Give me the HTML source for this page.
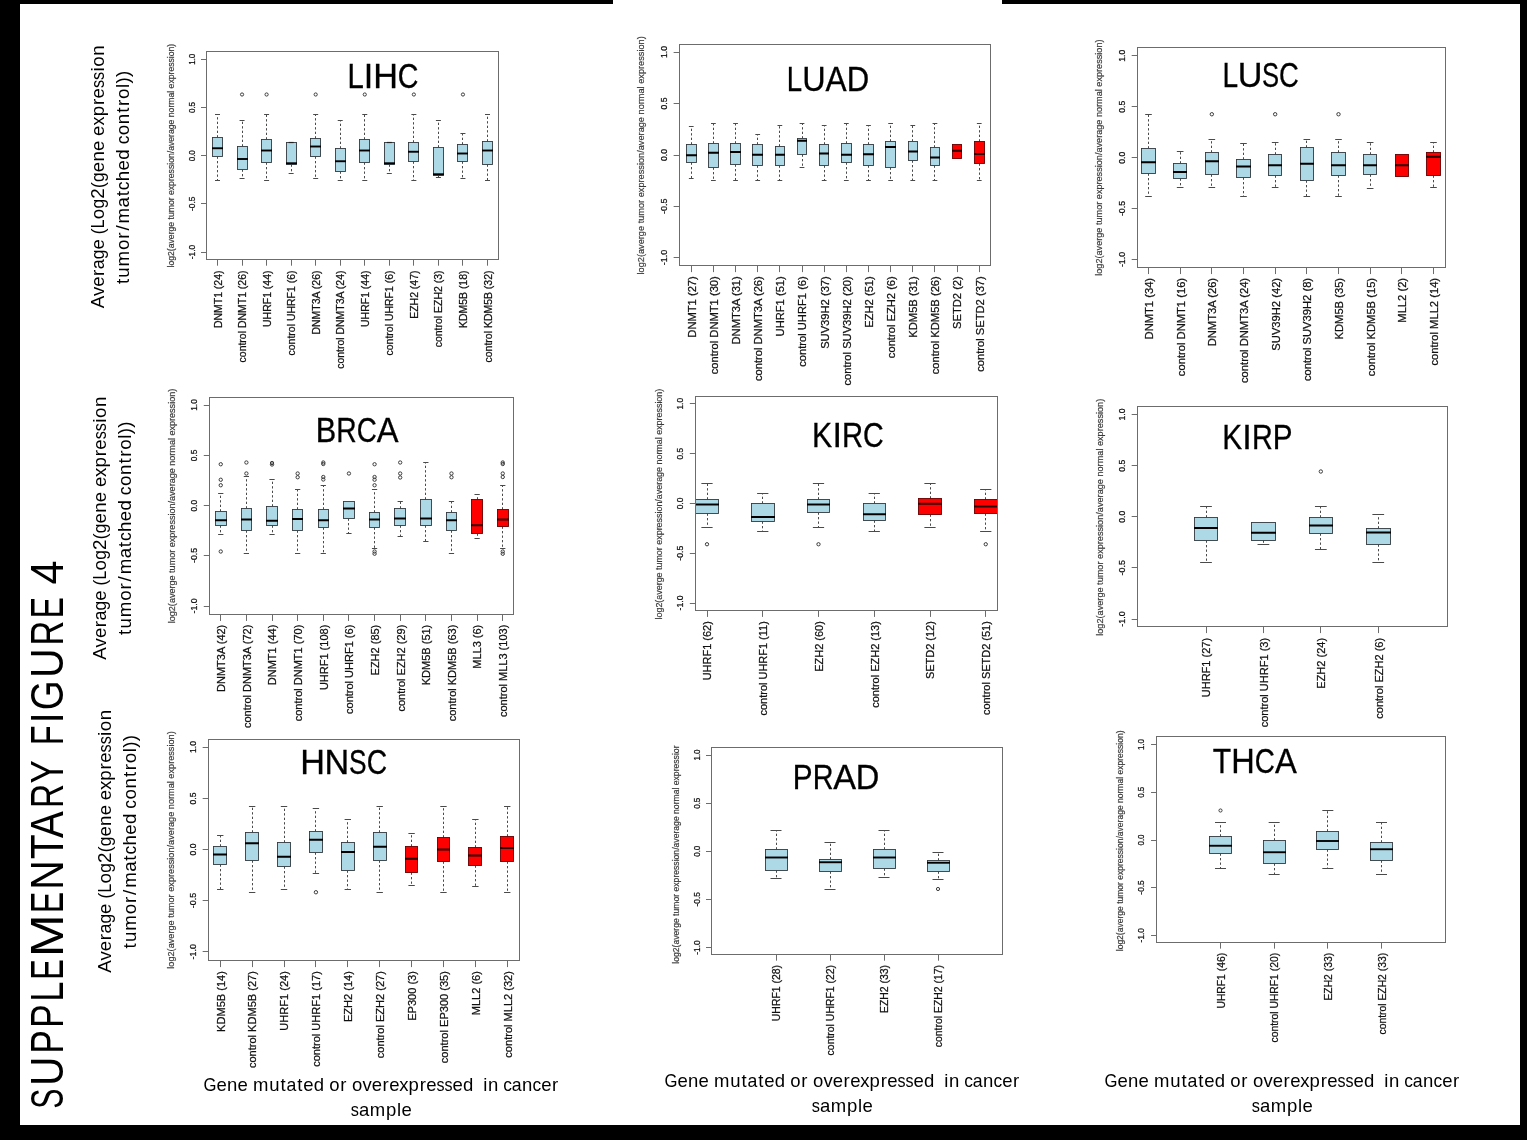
<!DOCTYPE html>
<html lang="en"><head><meta charset="utf-8"><title>Supplementary Figure 4</title>
<style>html,body{margin:0;padding:0;background:#fff;}body{width:1527px;height:1140px;overflow:hidden;font-family:"Liberation Sans", sans-serif;}svg{display:block;font-family:"Liberation Sans", sans-serif;will-change:transform;}</style>
</head><body>
<svg width="1527" height="1140" viewBox="0 0 1527 1140">
<rect x="0" y="0" width="1527" height="1140" fill="#fff"/>
<rect x="0" y="0" width="20" height="1140" fill="#000"/>
<rect x="0" y="0" width="613" height="4" fill="#000"/>
<rect x="1002" y="0" width="525" height="4" fill="#000"/>
<rect x="1520" y="0" width="7" height="1140" fill="#000"/>
<rect x="0" y="1125" width="1527" height="15" fill="#000"/>
<g transform="translate(62.6,0) rotate(-90)" font-size="45.3">
<text x="-1108.81" textLength="20.18" lengthAdjust="spacingAndGlyphs">S</text>
<text x="-1086.02" textLength="29.52" lengthAdjust="spacingAndGlyphs">U</text>
<text x="-1053.86" textLength="23.55" lengthAdjust="spacingAndGlyphs">P</text>
<text x="-1027.88" textLength="23.67" lengthAdjust="spacingAndGlyphs">P</text>
<text x="-1001.83" textLength="20.1" lengthAdjust="spacingAndGlyphs">L</text>
<text x="-979.69" textLength="20.53" lengthAdjust="spacingAndGlyphs">E</text>
<text x="-957.2" textLength="42.93" lengthAdjust="spacingAndGlyphs">M</text>
<text x="-913.07" textLength="21.15" lengthAdjust="spacingAndGlyphs">E</text>
<text x="-889.97" textLength="29.92" lengthAdjust="spacingAndGlyphs">N</text>
<text x="-859.17" textLength="24.87" lengthAdjust="spacingAndGlyphs">T</text>
<text x="-838.05" textLength="26.78" lengthAdjust="spacingAndGlyphs">A</text>
<text x="-807.91" textLength="24.13" lengthAdjust="spacingAndGlyphs">R</text>
<text x="-783.43" textLength="23.25" lengthAdjust="spacingAndGlyphs">Y</text>
<text x="-745.24" textLength="19.92" lengthAdjust="spacingAndGlyphs">F</text>
<text x="-723.35" textLength="10.81" lengthAdjust="spacingAndGlyphs">I</text>
<text x="-710.27" textLength="29.8" lengthAdjust="spacingAndGlyphs">G</text>
<text x="-677.94" textLength="29.71" lengthAdjust="spacingAndGlyphs">U</text>
<text x="-645.58" textLength="24.74" lengthAdjust="spacingAndGlyphs">R</text>
<text x="-618.51" textLength="21.52" lengthAdjust="spacingAndGlyphs">E</text>
<text x="-584.42" textLength="24.01" lengthAdjust="spacingAndGlyphs">4</text>
</g>
<g transform="translate(104,0) rotate(-90)" font-size="18.7">
<text x="-308.35 -296.09 -286.77 -275.9">Aver</text>
<text x="-269.16" textLength="9.94" lengthAdjust="spacingAndGlyphs">a</text>
<text x="-259.22" textLength="9.77" lengthAdjust="spacingAndGlyphs">g</text>
<text x="-249.49">e</text>
<text x="-234.4">(</text>
<text x="-228.14" textLength="8.73" lengthAdjust="spacingAndGlyphs">L</text>
<text x="-219.14">o</text>
<text x="-208.46" textLength="9.77" lengthAdjust="spacingAndGlyphs">g</text>
<text x="-198.63 -188.14">2(</text>
<text x="-181.88" textLength="9.77" lengthAdjust="spacingAndGlyphs">g</text>
<text x="-172.14 -161.53 -150.91">ene</text>
<text x="-135.89">e</text>
<text x="-125.52" textLength="8.99" lengthAdjust="spacingAndGlyphs">x</text>
<text x="-116.28 -105.12 -98.43">pre</text>
<text x="-88.06" textLength="8.12" lengthAdjust="spacingAndGlyphs">s</text>
<text x="-79.94" textLength="8.12" lengthAdjust="spacingAndGlyphs">s</text>
<text x="-71.52 -66.79 -55.86">ion</text>
</g>
<g transform="translate(129,0) rotate(-90)" font-size="18.7">
<text x="-284.08 -277.7 -266.45 -250.01 -238.77 -230.58 -223.4 -207.46 -196.36">tumor/mat</text>
<text x="-190.26" textLength="8.83" lengthAdjust="spacingAndGlyphs">c</text>
<text x="-181.14 -170.45 -159.77">hed</text>
<text x="-144.36" textLength="8.83" lengthAdjust="spacingAndGlyphs">c</text>
<text x="-135.21 -124.22 -112.63 -106 -98.94 -87.91 -83.38 -77.05">ontrol))</text>
</g>
<g transform="translate(106.2,0) rotate(-90)" font-size="18.7">
<text x="-659.65 -647.39 -638.06 -627.19">Aver</text>
<text x="-620.45" textLength="9.95" lengthAdjust="spacingAndGlyphs">a</text>
<text x="-610.5" textLength="9.77" lengthAdjust="spacingAndGlyphs">g</text>
<text x="-600.76">e</text>
<text x="-585.67">(</text>
<text x="-579.41" textLength="8.73" lengthAdjust="spacingAndGlyphs">L</text>
<text x="-570.4">o</text>
<text x="-559.73" textLength="9.77" lengthAdjust="spacingAndGlyphs">g</text>
<text x="-549.89 -539.39">2(</text>
<text x="-533.13" textLength="9.77" lengthAdjust="spacingAndGlyphs">g</text>
<text x="-523.39 -512.77 -502.15">ene</text>
<text x="-487.12 -476.93 -467.5 -456.34 -449.64">expre</text>
<text x="-439.28" textLength="8.12" lengthAdjust="spacingAndGlyphs">s</text>
<text x="-431.16" textLength="8.12" lengthAdjust="spacingAndGlyphs">s</text>
<text x="-422.73 -417.99 -407.06">ion</text>
</g>
<g transform="translate(131.05,0) rotate(-90)" font-size="18.7">
<text x="-634.88 -628.5 -617.25 -600.81 -589.57 -581.38 -574.2 -558.26 -547.16">tumor/mat</text>
<text x="-541.06" textLength="8.83" lengthAdjust="spacingAndGlyphs">c</text>
<text x="-531.94 -521.25 -510.57">hed</text>
<text x="-495.16" textLength="8.83" lengthAdjust="spacingAndGlyphs">c</text>
<text x="-486.01 -475.02 -463.43 -456.8 -449.74 -438.71 -434.18 -427.85">ontrol))</text>
</g>
<g transform="translate(111.3,0) rotate(-90)" font-size="18.7">
<text x="-972.75 -960.49 -951.16 -940.29">Aver</text>
<text x="-933.56" textLength="9.94" lengthAdjust="spacingAndGlyphs">a</text>
<text x="-923.61" textLength="9.77" lengthAdjust="spacingAndGlyphs">g</text>
<text x="-913.88">e</text>
<text x="-898.78">(</text>
<text x="-892.52" textLength="8.73" lengthAdjust="spacingAndGlyphs">L</text>
<text x="-883.52">o</text>
<text x="-872.84" textLength="9.77" lengthAdjust="spacingAndGlyphs">g</text>
<text x="-863.01 -852.51">2(</text>
<text x="-846.25" textLength="9.77" lengthAdjust="spacingAndGlyphs">g</text>
<text x="-836.52 -825.9 -815.28">ene</text>
<text x="-800.25 -790.07 -780.64 -769.48 -762.79">expre</text>
<text x="-752.42" textLength="8.12" lengthAdjust="spacingAndGlyphs">s</text>
<text x="-744.3" textLength="8.12" lengthAdjust="spacingAndGlyphs">s</text>
<text x="-735.88 -731.14 -720.21">ion</text>
</g>
<g transform="translate(136.2,0) rotate(-90)" font-size="18.7">
<text x="-948.38 -942 -930.75 -914.31 -903.07 -894.88 -887.7 -871.76 -860.66">tumor/mat</text>
<text x="-854.56" textLength="8.83" lengthAdjust="spacingAndGlyphs">c</text>
<text x="-845.44 -834.75 -824.07">hed</text>
<text x="-808.66" textLength="8.83" lengthAdjust="spacingAndGlyphs">c</text>
<text x="-799.51 -788.52 -776.93 -770.3 -763.24 -752.21 -747.68 -741.35">ontrol))</text>
</g>
<g transform="translate(0,1090.9)" font-size="18.5">
<text x="203.57" textLength="12.97" lengthAdjust="spacingAndGlyphs">G</text>
<text x="216.51 227.03 237.55">ene</text>
<text x="252.97 269.14 280.56">mut</text>
<text x="286.58" textLength="9.85" lengthAdjust="spacingAndGlyphs">a</text>
<text x="297.3 303.29 313.81">ted</text>
<text x="329.28 340.35">or</text>
<text x="351.95 362.53 371.77 382.54 389.17 399.26 408.6 419.65 426.29">overexpre</text>
<text x="436.55" textLength="8.04" lengthAdjust="spacingAndGlyphs">s</text>
<text x="444.59" textLength="8.04" lengthAdjust="spacingAndGlyphs">s</text>
<text x="452.61 463.12">ed</text>
<text x="483.27 487.95">in</text>
<text x="503.14" textLength="8.7" lengthAdjust="spacingAndGlyphs">c</text>
<text x="511.84" textLength="9.85" lengthAdjust="spacingAndGlyphs">a</text>
<text x="521.95">n</text>
<text x="532.49" textLength="8.7" lengthAdjust="spacingAndGlyphs">c</text>
<text x="541.16 551.93">er</text>
</g>
<g transform="translate(0,1115.5)" font-size="18.5">
<text x="350.85" textLength="8.17" lengthAdjust="spacingAndGlyphs">s</text>
<text x="358.88 369.66 386.05 397.02 401.52">ample</text>
</g>
<g transform="translate(0,1086.6)" font-size="18.5">
<text x="664.57" textLength="12.97" lengthAdjust="spacingAndGlyphs">G</text>
<text x="677.51 688.03 698.55">ene</text>
<text x="713.97 730.14 741.56">mut</text>
<text x="747.58" textLength="9.85" lengthAdjust="spacingAndGlyphs">a</text>
<text x="758.3 764.29 774.81">ted</text>
<text x="790.28 801.35">or</text>
<text x="812.95 823.53 832.77 843.54 850.17 860.26 869.6 880.65 887.29">overexpre</text>
<text x="897.55" textLength="8.04" lengthAdjust="spacingAndGlyphs">s</text>
<text x="905.59" textLength="8.04" lengthAdjust="spacingAndGlyphs">s</text>
<text x="913.61 924.12">ed</text>
<text x="944.27 948.95">in</text>
<text x="964.14" textLength="8.7" lengthAdjust="spacingAndGlyphs">c</text>
<text x="972.84" textLength="9.85" lengthAdjust="spacingAndGlyphs">a</text>
<text x="982.95">n</text>
<text x="993.49" textLength="8.7" lengthAdjust="spacingAndGlyphs">c</text>
<text x="1002.16 1012.93">er</text>
</g>
<g transform="translate(0,1111.5)" font-size="18.5">
<text x="811.85" textLength="8.17" lengthAdjust="spacingAndGlyphs">s</text>
<text x="819.88 830.66 847.05 858.02 862.52">ample</text>
</g>
<g transform="translate(0,1087.4)" font-size="18.5">
<text x="1104.57" textLength="12.97" lengthAdjust="spacingAndGlyphs">G</text>
<text x="1117.51 1128.03 1138.55">ene</text>
<text x="1153.97 1170.14 1181.56">mut</text>
<text x="1187.58" textLength="9.85" lengthAdjust="spacingAndGlyphs">a</text>
<text x="1198.3 1204.29 1214.81">ted</text>
<text x="1230.28 1241.35">or</text>
<text x="1252.95 1263.53 1272.77 1283.54 1290.17 1300.26 1309.6 1320.65 1327.29">overexpre</text>
<text x="1337.55" textLength="8.04" lengthAdjust="spacingAndGlyphs">s</text>
<text x="1345.59" textLength="8.04" lengthAdjust="spacingAndGlyphs">s</text>
<text x="1353.61 1364.12">ed</text>
<text x="1384.27 1388.95">in</text>
<text x="1404.14" textLength="8.7" lengthAdjust="spacingAndGlyphs">c</text>
<text x="1412.84" textLength="9.85" lengthAdjust="spacingAndGlyphs">a</text>
<text x="1422.95">n</text>
<text x="1433.49" textLength="8.7" lengthAdjust="spacingAndGlyphs">c</text>
<text x="1442.16 1452.93">er</text>
</g>
<g transform="translate(0,1112.3)" font-size="18.5">
<text x="1251.85" textLength="8.17" lengthAdjust="spacingAndGlyphs">s</text>
<text x="1259.88 1270.66 1287.05 1298.02 1302.52">ample</text>
</g>
<g>
<line x1="217.5" y1="137.5" x2="217.5" y2="114.25" stroke="#4a4a4a" stroke-width="1" stroke-dasharray="2.3 2.2"/>
<line x1="215" y1="114.5" x2="220" y2="114.5" stroke="#4a4a4a" stroke-width="1"/>
<line x1="217.5" y1="156.5" x2="217.5" y2="180.25" stroke="#4a4a4a" stroke-width="1" stroke-dasharray="2.3 2.2"/>
<line x1="215" y1="180.5" x2="220" y2="180.5" stroke="#4a4a4a" stroke-width="1"/>
<rect x="212.5" y="137.5" width="10" height="19" fill="#add8e6" stroke="#333b40" stroke-width="0.9"/>
<line x1="212" y1="148.25" x2="223" y2="148.25" stroke="#000" stroke-width="1.9"/>
<line x1="242.5" y1="146.5" x2="242.5" y2="120.5" stroke="#4a4a4a" stroke-width="1" stroke-dasharray="2.3 2.2"/>
<line x1="239.55" y1="120.5" x2="244.55" y2="120.5" stroke="#4a4a4a" stroke-width="1"/>
<line x1="242.5" y1="169.5" x2="242.5" y2="178.5" stroke="#4a4a4a" stroke-width="1" stroke-dasharray="2.3 2.2"/>
<line x1="239.55" y1="178.5" x2="244.55" y2="178.5" stroke="#4a4a4a" stroke-width="1"/>
<rect x="237.5" y="146.5" width="10" height="23" fill="#add8e6" stroke="#333b40" stroke-width="0.9"/>
<line x1="237" y1="159" x2="248" y2="159" stroke="#000" stroke-width="1.9"/>
<circle cx="242.05" cy="94.5" r="1.6" fill="none" stroke="#3c3c3c" stroke-width="1"/>
<line x1="266.5" y1="139.5" x2="266.5" y2="114.25" stroke="#4a4a4a" stroke-width="1" stroke-dasharray="2.3 2.2"/>
<line x1="264.09" y1="114.5" x2="269.09" y2="114.5" stroke="#4a4a4a" stroke-width="1"/>
<line x1="266.5" y1="162.5" x2="266.5" y2="180.25" stroke="#4a4a4a" stroke-width="1" stroke-dasharray="2.3 2.2"/>
<line x1="264.09" y1="180.5" x2="269.09" y2="180.5" stroke="#4a4a4a" stroke-width="1"/>
<rect x="261.5" y="139.5" width="10" height="23" fill="#add8e6" stroke="#333b40" stroke-width="0.9"/>
<line x1="261" y1="150.5" x2="272" y2="150.5" stroke="#000" stroke-width="1.9"/>
<circle cx="266.59" cy="94.5" r="1.6" fill="none" stroke="#3c3c3c" stroke-width="1"/>
<line x1="291.5" y1="164.5" x2="291.5" y2="173.75" stroke="#4a4a4a" stroke-width="1" stroke-dasharray="2.3 2.2"/>
<line x1="288.64" y1="173.5" x2="293.64" y2="173.5" stroke="#4a4a4a" stroke-width="1"/>
<rect x="286.5" y="142.5" width="10" height="22" fill="#add8e6" stroke="#333b40" stroke-width="0.9"/>
<line x1="288.64" y1="142.5" x2="293.64" y2="142.5" stroke="#222" stroke-width="1.2"/>
<line x1="286" y1="163.25" x2="297" y2="163.25" stroke="#000" stroke-width="1.9"/>
<line x1="315.5" y1="138.5" x2="315.5" y2="114.25" stroke="#4a4a4a" stroke-width="1" stroke-dasharray="2.3 2.2"/>
<line x1="313.18" y1="114.5" x2="318.18" y2="114.5" stroke="#4a4a4a" stroke-width="1"/>
<line x1="315.5" y1="156.5" x2="315.5" y2="178.5" stroke="#4a4a4a" stroke-width="1" stroke-dasharray="2.3 2.2"/>
<line x1="313.18" y1="178.5" x2="318.18" y2="178.5" stroke="#4a4a4a" stroke-width="1"/>
<rect x="310.5" y="138.5" width="10" height="18" fill="#add8e6" stroke="#333b40" stroke-width="0.9"/>
<line x1="310" y1="146.5" x2="321" y2="146.5" stroke="#000" stroke-width="1.9"/>
<circle cx="315.68" cy="94.5" r="1.6" fill="none" stroke="#3c3c3c" stroke-width="1"/>
<line x1="340.5" y1="148.5" x2="340.5" y2="120.5" stroke="#4a4a4a" stroke-width="1" stroke-dasharray="2.3 2.2"/>
<line x1="337.73" y1="120.5" x2="342.73" y2="120.5" stroke="#4a4a4a" stroke-width="1"/>
<line x1="340.5" y1="171.5" x2="340.5" y2="180.25" stroke="#4a4a4a" stroke-width="1" stroke-dasharray="2.3 2.2"/>
<line x1="337.73" y1="180.5" x2="342.73" y2="180.5" stroke="#4a4a4a" stroke-width="1"/>
<rect x="335.5" y="148.5" width="10" height="23" fill="#add8e6" stroke="#333b40" stroke-width="0.9"/>
<line x1="335" y1="161.25" x2="346" y2="161.25" stroke="#000" stroke-width="1.9"/>
<line x1="364.5" y1="139.5" x2="364.5" y2="114.25" stroke="#4a4a4a" stroke-width="1" stroke-dasharray="2.3 2.2"/>
<line x1="362.27" y1="114.5" x2="367.27" y2="114.5" stroke="#4a4a4a" stroke-width="1"/>
<line x1="364.5" y1="162.5" x2="364.5" y2="180.25" stroke="#4a4a4a" stroke-width="1" stroke-dasharray="2.3 2.2"/>
<line x1="362.27" y1="180.5" x2="367.27" y2="180.5" stroke="#4a4a4a" stroke-width="1"/>
<rect x="359.5" y="139.5" width="10" height="23" fill="#add8e6" stroke="#333b40" stroke-width="0.9"/>
<line x1="359" y1="150.5" x2="370" y2="150.5" stroke="#000" stroke-width="1.9"/>
<circle cx="364.77" cy="94.5" r="1.6" fill="none" stroke="#3c3c3c" stroke-width="1"/>
<line x1="389.5" y1="164.5" x2="389.5" y2="173.75" stroke="#4a4a4a" stroke-width="1" stroke-dasharray="2.3 2.2"/>
<line x1="386.82" y1="173.5" x2="391.82" y2="173.5" stroke="#4a4a4a" stroke-width="1"/>
<rect x="384.5" y="142.5" width="10" height="22" fill="#add8e6" stroke="#333b40" stroke-width="0.9"/>
<line x1="386.82" y1="142.5" x2="391.82" y2="142.5" stroke="#222" stroke-width="1.2"/>
<line x1="384" y1="163.25" x2="395" y2="163.25" stroke="#000" stroke-width="1.9"/>
<line x1="413.5" y1="142.5" x2="413.5" y2="114.25" stroke="#4a4a4a" stroke-width="1" stroke-dasharray="2.3 2.2"/>
<line x1="411.36" y1="114.5" x2="416.36" y2="114.5" stroke="#4a4a4a" stroke-width="1"/>
<line x1="413.5" y1="161.5" x2="413.5" y2="180.25" stroke="#4a4a4a" stroke-width="1" stroke-dasharray="2.3 2.2"/>
<line x1="411.36" y1="180.5" x2="416.36" y2="180.5" stroke="#4a4a4a" stroke-width="1"/>
<rect x="408.5" y="142.5" width="10" height="19" fill="#add8e6" stroke="#333b40" stroke-width="0.9"/>
<line x1="408" y1="151.75" x2="419" y2="151.75" stroke="#000" stroke-width="1.9"/>
<circle cx="413.86" cy="94.5" r="1.6" fill="none" stroke="#3c3c3c" stroke-width="1"/>
<line x1="438.5" y1="147.5" x2="438.5" y2="120.5" stroke="#4a4a4a" stroke-width="1" stroke-dasharray="2.3 2.2"/>
<line x1="435.91" y1="120.5" x2="440.91" y2="120.5" stroke="#4a4a4a" stroke-width="1"/>
<line x1="438.5" y1="175.5" x2="438.5" y2="177.5" stroke="#4a4a4a" stroke-width="1" stroke-dasharray="2.3 2.2"/>
<line x1="435.91" y1="177.5" x2="440.91" y2="177.5" stroke="#4a4a4a" stroke-width="1"/>
<rect x="433.5" y="147.5" width="10" height="28" fill="#add8e6" stroke="#333b40" stroke-width="0.9"/>
<line x1="433" y1="174.25" x2="444" y2="174.25" stroke="#000" stroke-width="1.9"/>
<line x1="462.5" y1="144.5" x2="462.5" y2="133" stroke="#4a4a4a" stroke-width="1" stroke-dasharray="2.3 2.2"/>
<line x1="460.45" y1="133.5" x2="465.45" y2="133.5" stroke="#4a4a4a" stroke-width="1"/>
<line x1="462.5" y1="161.5" x2="462.5" y2="178.5" stroke="#4a4a4a" stroke-width="1" stroke-dasharray="2.3 2.2"/>
<line x1="460.45" y1="178.5" x2="465.45" y2="178.5" stroke="#4a4a4a" stroke-width="1"/>
<rect x="457.5" y="144.5" width="10" height="17" fill="#add8e6" stroke="#333b40" stroke-width="0.9"/>
<line x1="457" y1="153.5" x2="468" y2="153.5" stroke="#000" stroke-width="1.9"/>
<circle cx="462.95" cy="94.5" r="1.6" fill="none" stroke="#3c3c3c" stroke-width="1"/>
<line x1="487.5" y1="141.5" x2="487.5" y2="114.25" stroke="#4a4a4a" stroke-width="1" stroke-dasharray="2.3 2.2"/>
<line x1="485" y1="114.5" x2="490" y2="114.5" stroke="#4a4a4a" stroke-width="1"/>
<line x1="487.5" y1="164.5" x2="487.5" y2="180.25" stroke="#4a4a4a" stroke-width="1" stroke-dasharray="2.3 2.2"/>
<line x1="485" y1="180.5" x2="490" y2="180.5" stroke="#4a4a4a" stroke-width="1"/>
<rect x="482.5" y="141.5" width="10" height="23" fill="#add8e6" stroke="#333b40" stroke-width="0.9"/>
<line x1="482" y1="150.5" x2="493" y2="150.5" stroke="#000" stroke-width="1.9"/>
<rect x="206.5" y="51.5" width="292" height="208" fill="none" stroke="#6c6c6c" stroke-width="1"/>
<line x1="201" y1="59.5" x2="206.5" y2="59.5" stroke="#6c6c6c" stroke-width="1"/>
<text transform="translate(194.95,59.25) rotate(-90)" font-size="8.6" text-anchor="middle" fill="#111" textLength="11.2" lengthAdjust="spacingAndGlyphs" stroke="#111" stroke-width="0.25">1.0</text>
<line x1="201" y1="107.5" x2="206.5" y2="107.5" stroke="#6c6c6c" stroke-width="1"/>
<text transform="translate(194.95,107.5) rotate(-90)" font-size="8.6" text-anchor="middle" fill="#111" textLength="11.2" lengthAdjust="spacingAndGlyphs" stroke="#111" stroke-width="0.25">0.5</text>
<line x1="201" y1="155.5" x2="206.5" y2="155.5" stroke="#6c6c6c" stroke-width="1"/>
<text transform="translate(194.95,155.75) rotate(-90)" font-size="8.6" text-anchor="middle" fill="#111" textLength="11.2" lengthAdjust="spacingAndGlyphs" stroke="#111" stroke-width="0.25">0.0</text>
<line x1="201" y1="203.5" x2="206.5" y2="203.5" stroke="#6c6c6c" stroke-width="1"/>
<text transform="translate(194.95,203.75) rotate(-90)" font-size="8.6" text-anchor="middle" fill="#111" textLength="14.4" lengthAdjust="spacingAndGlyphs" stroke="#111" stroke-width="0.25">-0.5</text>
<line x1="201" y1="252.5" x2="206.5" y2="252.5" stroke="#6c6c6c" stroke-width="1"/>
<text transform="translate(194.95,252) rotate(-90)" font-size="8.6" text-anchor="middle" fill="#111" textLength="14.4" lengthAdjust="spacingAndGlyphs" stroke="#111" stroke-width="0.25">-1.0</text>
<line x1="217.5" y1="259.5" x2="217.5" y2="265.7" stroke="#6c6c6c" stroke-width="1"/>
<text transform="translate(221.58,270.5) rotate(-90)" font-size="10.47" text-anchor="end" fill="#111" stroke="#111" stroke-width="0.25">DNMT1 (24)</text>
<line x1="242.5" y1="259.5" x2="242.5" y2="265.7" stroke="#6c6c6c" stroke-width="1"/>
<text transform="translate(246.13,270.5) rotate(-90)" font-size="10.47" text-anchor="end" fill="#111" stroke="#111" stroke-width="0.25">control DNMT1 (26)</text>
<line x1="266.5" y1="259.5" x2="266.5" y2="265.7" stroke="#6c6c6c" stroke-width="1"/>
<text transform="translate(270.67,270.5) rotate(-90)" font-size="10.47" text-anchor="end" fill="#111" stroke="#111" stroke-width="0.25">UHRF1 (44)</text>
<line x1="291.5" y1="259.5" x2="291.5" y2="265.7" stroke="#6c6c6c" stroke-width="1"/>
<text transform="translate(295.22,270.5) rotate(-90)" font-size="10.47" text-anchor="end" fill="#111" stroke="#111" stroke-width="0.25">control UHRF1 (6)</text>
<line x1="315.5" y1="259.5" x2="315.5" y2="265.7" stroke="#6c6c6c" stroke-width="1"/>
<text transform="translate(319.77,270.5) rotate(-90)" font-size="10.47" text-anchor="end" fill="#111" stroke="#111" stroke-width="0.25">DNMT3A (26)</text>
<line x1="340.5" y1="259.5" x2="340.5" y2="265.7" stroke="#6c6c6c" stroke-width="1"/>
<text transform="translate(344.31,270.5) rotate(-90)" font-size="10.47" text-anchor="end" fill="#111" stroke="#111" stroke-width="0.25">control DNMT3A (24)</text>
<line x1="364.5" y1="259.5" x2="364.5" y2="265.7" stroke="#6c6c6c" stroke-width="1"/>
<text transform="translate(368.86,270.5) rotate(-90)" font-size="10.47" text-anchor="end" fill="#111" stroke="#111" stroke-width="0.25">UHRF1 (44)</text>
<line x1="389.5" y1="259.5" x2="389.5" y2="265.7" stroke="#6c6c6c" stroke-width="1"/>
<text transform="translate(393.4,270.5) rotate(-90)" font-size="10.47" text-anchor="end" fill="#111" stroke="#111" stroke-width="0.25">control UHRF1 (6)</text>
<line x1="413.5" y1="259.5" x2="413.5" y2="265.7" stroke="#6c6c6c" stroke-width="1"/>
<text transform="translate(417.95,270.5) rotate(-90)" font-size="10.47" text-anchor="end" fill="#111" stroke="#111" stroke-width="0.25">EZH2 (47)</text>
<line x1="438.5" y1="259.5" x2="438.5" y2="265.7" stroke="#6c6c6c" stroke-width="1"/>
<text transform="translate(442.49,270.5) rotate(-90)" font-size="10.47" text-anchor="end" fill="#111" stroke="#111" stroke-width="0.25">control EZH2 (3)</text>
<line x1="462.5" y1="259.5" x2="462.5" y2="265.7" stroke="#6c6c6c" stroke-width="1"/>
<text transform="translate(467.04,270.5) rotate(-90)" font-size="10.47" text-anchor="end" fill="#111" stroke="#111" stroke-width="0.25">KDM5B (18)</text>
<line x1="487.5" y1="259.5" x2="487.5" y2="265.7" stroke="#6c6c6c" stroke-width="1"/>
<text transform="translate(491.58,270.5) rotate(-90)" font-size="10.47" text-anchor="end" fill="#111" stroke="#111" stroke-width="0.25">control KDM5B (32)</text>
<text transform="translate(174.3,267.5) rotate(-90)" font-size="9.2" text-anchor="start" fill="#3a3a3a" textLength="223.75" lengthAdjust="spacingAndGlyphs" stroke="#3a3a3a" stroke-width="0.2">log2(averge tumor expression/average normal expression)</text>
<g transform="translate(0,87.6)" font-size="34.2" stroke="#000" stroke-width="0.3">
<text x="347.38" textLength="16.31" lengthAdjust="spacingAndGlyphs">L</text>
<text x="363.83 373.21">IH</text>
<text x="397.65" textLength="20.69" lengthAdjust="spacingAndGlyphs">C</text>
</g>
</g>
<g>
<line x1="691.5" y1="144.5" x2="691.5" y2="126.25" stroke="#4a4a4a" stroke-width="1" stroke-dasharray="2.3 2.2"/>
<line x1="688.88" y1="126.5" x2="693.62" y2="126.5" stroke="#4a4a4a" stroke-width="1"/>
<line x1="691.5" y1="162.5" x2="691.5" y2="178.75" stroke="#4a4a4a" stroke-width="1" stroke-dasharray="2.3 2.2"/>
<line x1="688.88" y1="178.5" x2="693.62" y2="178.5" stroke="#4a4a4a" stroke-width="1"/>
<rect x="686.5" y="144.5" width="10" height="18" fill="#add8e6" stroke="#333b40" stroke-width="0.9"/>
<line x1="686" y1="155.25" x2="697" y2="155.25" stroke="#000" stroke-width="2.03"/>
<line x1="713.5" y1="143.5" x2="713.5" y2="123.5" stroke="#4a4a4a" stroke-width="1" stroke-dasharray="2.3 2.2"/>
<line x1="711.03" y1="123.5" x2="715.78" y2="123.5" stroke="#4a4a4a" stroke-width="1"/>
<line x1="713.5" y1="167.5" x2="713.5" y2="180.25" stroke="#4a4a4a" stroke-width="1" stroke-dasharray="2.3 2.2"/>
<line x1="711.03" y1="180.5" x2="715.78" y2="180.5" stroke="#4a4a4a" stroke-width="1"/>
<rect x="708.5" y="143.5" width="10" height="24" fill="#add8e6" stroke="#333b40" stroke-width="0.9"/>
<line x1="708" y1="152.75" x2="719" y2="152.75" stroke="#000" stroke-width="2.03"/>
<line x1="735.5" y1="143.5" x2="735.5" y2="123.5" stroke="#4a4a4a" stroke-width="1" stroke-dasharray="2.3 2.2"/>
<line x1="733.18" y1="123.5" x2="737.93" y2="123.5" stroke="#4a4a4a" stroke-width="1"/>
<line x1="735.5" y1="164.5" x2="735.5" y2="180.25" stroke="#4a4a4a" stroke-width="1" stroke-dasharray="2.3 2.2"/>
<line x1="733.18" y1="180.5" x2="737.93" y2="180.5" stroke="#4a4a4a" stroke-width="1"/>
<rect x="730.5" y="143.5" width="10" height="21" fill="#add8e6" stroke="#333b40" stroke-width="0.9"/>
<line x1="730" y1="152" x2="741" y2="152" stroke="#000" stroke-width="2.03"/>
<line x1="757.5" y1="144.5" x2="757.5" y2="134.5" stroke="#4a4a4a" stroke-width="1" stroke-dasharray="2.3 2.2"/>
<line x1="755.34" y1="134.5" x2="760.09" y2="134.5" stroke="#4a4a4a" stroke-width="1"/>
<line x1="757.5" y1="165.5" x2="757.5" y2="180" stroke="#4a4a4a" stroke-width="1" stroke-dasharray="2.3 2.2"/>
<line x1="755.34" y1="180.5" x2="760.09" y2="180.5" stroke="#4a4a4a" stroke-width="1"/>
<rect x="752.5" y="144.5" width="10" height="21" fill="#add8e6" stroke="#333b40" stroke-width="0.9"/>
<line x1="752" y1="154.75" x2="763" y2="154.75" stroke="#000" stroke-width="2.03"/>
<line x1="779.5" y1="146.5" x2="779.5" y2="125" stroke="#4a4a4a" stroke-width="1" stroke-dasharray="2.3 2.2"/>
<line x1="777.49" y1="125.5" x2="782.24" y2="125.5" stroke="#4a4a4a" stroke-width="1"/>
<line x1="779.5" y1="165.5" x2="779.5" y2="180.25" stroke="#4a4a4a" stroke-width="1" stroke-dasharray="2.3 2.2"/>
<line x1="777.49" y1="180.5" x2="782.24" y2="180.5" stroke="#4a4a4a" stroke-width="1"/>
<rect x="775.5" y="146.5" width="9" height="19" fill="#add8e6" stroke="#333b40" stroke-width="0.9"/>
<line x1="775" y1="154.75" x2="785" y2="154.75" stroke="#000" stroke-width="2.03"/>
<line x1="802.5" y1="138.5" x2="802.5" y2="123.5" stroke="#4a4a4a" stroke-width="1" stroke-dasharray="2.3 2.2"/>
<line x1="799.64" y1="123.5" x2="804.39" y2="123.5" stroke="#4a4a4a" stroke-width="1"/>
<line x1="802.5" y1="154.5" x2="802.5" y2="167.75" stroke="#4a4a4a" stroke-width="1" stroke-dasharray="2.3 2.2"/>
<line x1="799.64" y1="167.5" x2="804.39" y2="167.5" stroke="#4a4a4a" stroke-width="1"/>
<rect x="797.5" y="138.5" width="9" height="16" fill="#add8e6" stroke="#333b40" stroke-width="0.9"/>
<line x1="797" y1="140.75" x2="807" y2="140.75" stroke="#000" stroke-width="2.03"/>
<line x1="824.5" y1="144.5" x2="824.5" y2="125" stroke="#4a4a4a" stroke-width="1" stroke-dasharray="2.3 2.2"/>
<line x1="821.8" y1="125.5" x2="826.55" y2="125.5" stroke="#4a4a4a" stroke-width="1"/>
<line x1="824.5" y1="165.5" x2="824.5" y2="180.25" stroke="#4a4a4a" stroke-width="1" stroke-dasharray="2.3 2.2"/>
<line x1="821.8" y1="180.5" x2="826.55" y2="180.5" stroke="#4a4a4a" stroke-width="1"/>
<rect x="819.5" y="144.5" width="9" height="21" fill="#add8e6" stroke="#333b40" stroke-width="0.9"/>
<line x1="819" y1="153.5" x2="829" y2="153.5" stroke="#000" stroke-width="2.03"/>
<line x1="846.5" y1="143.5" x2="846.5" y2="123.5" stroke="#4a4a4a" stroke-width="1" stroke-dasharray="2.3 2.2"/>
<line x1="843.95" y1="123.5" x2="848.7" y2="123.5" stroke="#4a4a4a" stroke-width="1"/>
<line x1="846.5" y1="162.5" x2="846.5" y2="180" stroke="#4a4a4a" stroke-width="1" stroke-dasharray="2.3 2.2"/>
<line x1="843.95" y1="180.5" x2="848.7" y2="180.5" stroke="#4a4a4a" stroke-width="1"/>
<rect x="841.5" y="143.5" width="10" height="19" fill="#add8e6" stroke="#333b40" stroke-width="0.9"/>
<line x1="841" y1="154.75" x2="852" y2="154.75" stroke="#000" stroke-width="2.03"/>
<line x1="868.5" y1="144.5" x2="868.5" y2="125" stroke="#4a4a4a" stroke-width="1" stroke-dasharray="2.3 2.2"/>
<line x1="866.11" y1="125.5" x2="870.86" y2="125.5" stroke="#4a4a4a" stroke-width="1"/>
<line x1="868.5" y1="165.5" x2="868.5" y2="180.25" stroke="#4a4a4a" stroke-width="1" stroke-dasharray="2.3 2.2"/>
<line x1="866.11" y1="180.5" x2="870.86" y2="180.5" stroke="#4a4a4a" stroke-width="1"/>
<rect x="863.5" y="144.5" width="10" height="21" fill="#add8e6" stroke="#333b40" stroke-width="0.9"/>
<line x1="863" y1="154.25" x2="874" y2="154.25" stroke="#000" stroke-width="2.03"/>
<line x1="890.5" y1="141.5" x2="890.5" y2="123.5" stroke="#4a4a4a" stroke-width="1" stroke-dasharray="2.3 2.2"/>
<line x1="888.26" y1="123.5" x2="893.01" y2="123.5" stroke="#4a4a4a" stroke-width="1"/>
<line x1="890.5" y1="167.5" x2="890.5" y2="180" stroke="#4a4a4a" stroke-width="1" stroke-dasharray="2.3 2.2"/>
<line x1="888.26" y1="180.5" x2="893.01" y2="180.5" stroke="#4a4a4a" stroke-width="1"/>
<rect x="885.5" y="141.5" width="10" height="26" fill="#add8e6" stroke="#333b40" stroke-width="0.9"/>
<line x1="885" y1="147" x2="896" y2="147" stroke="#000" stroke-width="2.03"/>
<line x1="912.5" y1="141.5" x2="912.5" y2="125" stroke="#4a4a4a" stroke-width="1" stroke-dasharray="2.3 2.2"/>
<line x1="910.41" y1="125.5" x2="915.16" y2="125.5" stroke="#4a4a4a" stroke-width="1"/>
<line x1="912.5" y1="160.5" x2="912.5" y2="180.25" stroke="#4a4a4a" stroke-width="1" stroke-dasharray="2.3 2.2"/>
<line x1="910.41" y1="180.5" x2="915.16" y2="180.5" stroke="#4a4a4a" stroke-width="1"/>
<rect x="908.5" y="141.5" width="9" height="19" fill="#add8e6" stroke="#333b40" stroke-width="0.9"/>
<line x1="908" y1="151.5" x2="918" y2="151.5" stroke="#000" stroke-width="2.03"/>
<line x1="934.5" y1="147.5" x2="934.5" y2="123.5" stroke="#4a4a4a" stroke-width="1" stroke-dasharray="2.3 2.2"/>
<line x1="932.57" y1="123.5" x2="937.32" y2="123.5" stroke="#4a4a4a" stroke-width="1"/>
<line x1="934.5" y1="165.5" x2="934.5" y2="180" stroke="#4a4a4a" stroke-width="1" stroke-dasharray="2.3 2.2"/>
<line x1="932.57" y1="180.5" x2="937.32" y2="180.5" stroke="#4a4a4a" stroke-width="1"/>
<rect x="930.5" y="147.5" width="9" height="18" fill="#add8e6" stroke="#333b40" stroke-width="0.9"/>
<line x1="930" y1="157.5" x2="940" y2="157.5" stroke="#000" stroke-width="2.03"/>
<rect x="952.5" y="144.5" width="9" height="14" fill="#ff0000" stroke="#6a0000" stroke-width="0.9"/>
<line x1="952" y1="150.75" x2="962" y2="150.75" stroke="#2a0000" stroke-width="2.03"/>
<line x1="979.5" y1="141.5" x2="979.5" y2="123.5" stroke="#4a4a4a" stroke-width="1" stroke-dasharray="2.3 2.2"/>
<line x1="976.88" y1="123.5" x2="981.62" y2="123.5" stroke="#4a4a4a" stroke-width="1"/>
<line x1="979.5" y1="163.5" x2="979.5" y2="180.25" stroke="#4a4a4a" stroke-width="1" stroke-dasharray="2.3 2.2"/>
<line x1="976.88" y1="180.5" x2="981.62" y2="180.5" stroke="#4a4a4a" stroke-width="1"/>
<rect x="974.5" y="141.5" width="10" height="22" fill="#ff0000" stroke="#6a0000" stroke-width="0.9"/>
<line x1="974" y1="154" x2="985" y2="154" stroke="#2a0000" stroke-width="2.03"/>
<rect x="679.5" y="44.5" width="311" height="221" fill="none" stroke="#6c6c6c" stroke-width="1"/>
<line x1="673.64" y1="52.5" x2="679.5" y2="52.5" stroke="#6c6c6c" stroke-width="1"/>
<text transform="translate(667.1,52) rotate(-90)" font-size="9.17" text-anchor="middle" fill="#111" textLength="11.94" lengthAdjust="spacingAndGlyphs" stroke="#111" stroke-width="0.25">1.0</text>
<line x1="673.64" y1="103.5" x2="679.5" y2="103.5" stroke="#6c6c6c" stroke-width="1"/>
<text transform="translate(667.1,103.5) rotate(-90)" font-size="9.17" text-anchor="middle" fill="#111" textLength="11.94" lengthAdjust="spacingAndGlyphs" stroke="#111" stroke-width="0.25">0.5</text>
<line x1="673.64" y1="155.5" x2="679.5" y2="155.5" stroke="#6c6c6c" stroke-width="1"/>
<text transform="translate(667.1,155) rotate(-90)" font-size="9.17" text-anchor="middle" fill="#111" textLength="11.94" lengthAdjust="spacingAndGlyphs" stroke="#111" stroke-width="0.25">0.0</text>
<line x1="673.64" y1="206.5" x2="679.5" y2="206.5" stroke="#6c6c6c" stroke-width="1"/>
<text transform="translate(667.1,206.25) rotate(-90)" font-size="9.17" text-anchor="middle" fill="#111" textLength="15.35" lengthAdjust="spacingAndGlyphs" stroke="#111" stroke-width="0.25">-0.5</text>
<line x1="673.64" y1="257.5" x2="679.5" y2="257.5" stroke="#6c6c6c" stroke-width="1"/>
<text transform="translate(667.1,257.5) rotate(-90)" font-size="9.17" text-anchor="middle" fill="#111" textLength="15.35" lengthAdjust="spacingAndGlyphs" stroke="#111" stroke-width="0.25">-1.0</text>
<line x1="691.5" y1="265.5" x2="691.5" y2="272.11" stroke="#6c6c6c" stroke-width="1"/>
<text transform="translate(695.61,276.2) rotate(-90)" font-size="11.18" text-anchor="end" fill="#111" stroke="#111" stroke-width="0.25">DNMT1 (27)</text>
<line x1="713.5" y1="265.5" x2="713.5" y2="272.11" stroke="#6c6c6c" stroke-width="1"/>
<text transform="translate(717.76,276.2) rotate(-90)" font-size="11.18" text-anchor="end" fill="#111" stroke="#111" stroke-width="0.25">control DNMT1 (30)</text>
<line x1="735.5" y1="265.5" x2="735.5" y2="272.11" stroke="#6c6c6c" stroke-width="1"/>
<text transform="translate(739.92,276.2) rotate(-90)" font-size="11.18" text-anchor="end" fill="#111" stroke="#111" stroke-width="0.25">DNMT3A (31)</text>
<line x1="757.5" y1="265.5" x2="757.5" y2="272.11" stroke="#6c6c6c" stroke-width="1"/>
<text transform="translate(762.07,276.2) rotate(-90)" font-size="11.18" text-anchor="end" fill="#111" stroke="#111" stroke-width="0.25">control DNMT3A (26)</text>
<line x1="779.5" y1="265.5" x2="779.5" y2="272.11" stroke="#6c6c6c" stroke-width="1"/>
<text transform="translate(784.23,276.2) rotate(-90)" font-size="11.18" text-anchor="end" fill="#111" stroke="#111" stroke-width="0.25">UHRF1 (51)</text>
<line x1="802.5" y1="265.5" x2="802.5" y2="272.11" stroke="#6c6c6c" stroke-width="1"/>
<text transform="translate(806.38,276.2) rotate(-90)" font-size="11.18" text-anchor="end" fill="#111" stroke="#111" stroke-width="0.25">control UHRF1 (6)</text>
<line x1="824.5" y1="265.5" x2="824.5" y2="272.11" stroke="#6c6c6c" stroke-width="1"/>
<text transform="translate(828.53,276.2) rotate(-90)" font-size="11.18" text-anchor="end" fill="#111" stroke="#111" stroke-width="0.25">SUV39H2 (37)</text>
<line x1="846.5" y1="265.5" x2="846.5" y2="272.11" stroke="#6c6c6c" stroke-width="1"/>
<text transform="translate(850.69,276.2) rotate(-90)" font-size="11.18" text-anchor="end" fill="#111" stroke="#111" stroke-width="0.25">control SUV39H2 (20)</text>
<line x1="868.5" y1="265.5" x2="868.5" y2="272.11" stroke="#6c6c6c" stroke-width="1"/>
<text transform="translate(872.84,276.2) rotate(-90)" font-size="11.18" text-anchor="end" fill="#111" stroke="#111" stroke-width="0.25">EZH2 (51)</text>
<line x1="890.5" y1="265.5" x2="890.5" y2="272.11" stroke="#6c6c6c" stroke-width="1"/>
<text transform="translate(894.99,276.2) rotate(-90)" font-size="11.18" text-anchor="end" fill="#111" stroke="#111" stroke-width="0.25">control EZH2 (6)</text>
<line x1="912.5" y1="265.5" x2="912.5" y2="272.11" stroke="#6c6c6c" stroke-width="1"/>
<text transform="translate(917.15,276.2) rotate(-90)" font-size="11.18" text-anchor="end" fill="#111" stroke="#111" stroke-width="0.25">KDM5B (31)</text>
<line x1="934.5" y1="265.5" x2="934.5" y2="272.11" stroke="#6c6c6c" stroke-width="1"/>
<text transform="translate(939.3,276.2) rotate(-90)" font-size="11.18" text-anchor="end" fill="#111" stroke="#111" stroke-width="0.25">control KDM5B (26)</text>
<line x1="957.5" y1="265.5" x2="957.5" y2="272.11" stroke="#6c6c6c" stroke-width="1"/>
<text transform="translate(961.46,276.2) rotate(-90)" font-size="11.18" text-anchor="end" fill="#111" stroke="#111" stroke-width="0.25">SETD2 (2)</text>
<line x1="979.5" y1="265.5" x2="979.5" y2="272.11" stroke="#6c6c6c" stroke-width="1"/>
<text transform="translate(983.61,276.2) rotate(-90)" font-size="11.18" text-anchor="end" fill="#111" stroke="#111" stroke-width="0.25">control SETD2 (37)</text>
<text transform="translate(644.3,274.5) rotate(-90)" font-size="9.81" text-anchor="start" fill="#3a3a3a" textLength="238.25" lengthAdjust="spacingAndGlyphs" stroke="#3a3a3a" stroke-width="0.2">log2(averge tumor expression/average normal expression)</text>
<g transform="translate(0,91.1)" font-size="34.2" stroke="#000" stroke-width="0.3">
<text x="786.77" textLength="15.36" lengthAdjust="spacingAndGlyphs">L</text>
<text x="802.13" textLength="23.43" lengthAdjust="spacingAndGlyphs">U</text>
<text x="825.56" textLength="21.13" lengthAdjust="spacingAndGlyphs">A</text>
<text x="846.7" textLength="22.47" lengthAdjust="spacingAndGlyphs">D</text>
</g>
</g>
<g>
<line x1="1148.5" y1="148.5" x2="1148.5" y2="114.25" stroke="#4a4a4a" stroke-width="1" stroke-dasharray="2.3 2.2"/>
<line x1="1145.19" y1="114.5" x2="1151.81" y2="114.5" stroke="#4a4a4a" stroke-width="1"/>
<line x1="1148.5" y1="173.5" x2="1148.5" y2="196.25" stroke="#4a4a4a" stroke-width="1" stroke-dasharray="2.3 2.2"/>
<line x1="1145.19" y1="196.5" x2="1151.81" y2="196.5" stroke="#4a4a4a" stroke-width="1"/>
<rect x="1141.5" y="148.5" width="14" height="25" fill="#add8e6" stroke="#333b40" stroke-width="0.9"/>
<line x1="1141" y1="162.25" x2="1156" y2="162.25" stroke="#000" stroke-width="2.01"/>
<line x1="1180.5" y1="163.5" x2="1180.5" y2="151" stroke="#4a4a4a" stroke-width="1" stroke-dasharray="2.3 2.2"/>
<line x1="1176.85" y1="151.5" x2="1183.48" y2="151.5" stroke="#4a4a4a" stroke-width="1"/>
<line x1="1180.5" y1="178.5" x2="1180.5" y2="187.5" stroke="#4a4a4a" stroke-width="1" stroke-dasharray="2.3 2.2"/>
<line x1="1176.85" y1="187.5" x2="1183.48" y2="187.5" stroke="#4a4a4a" stroke-width="1"/>
<rect x="1173.5" y="163.5" width="13" height="15" fill="#add8e6" stroke="#333b40" stroke-width="0.9"/>
<line x1="1173" y1="172" x2="1187" y2="172" stroke="#000" stroke-width="2.01"/>
<line x1="1211.5" y1="152.5" x2="1211.5" y2="139.5" stroke="#4a4a4a" stroke-width="1" stroke-dasharray="2.3 2.2"/>
<line x1="1208.52" y1="139.5" x2="1215.15" y2="139.5" stroke="#4a4a4a" stroke-width="1"/>
<line x1="1211.5" y1="174.5" x2="1211.5" y2="187.5" stroke="#4a4a4a" stroke-width="1" stroke-dasharray="2.3 2.2"/>
<line x1="1208.52" y1="187.5" x2="1215.15" y2="187.5" stroke="#4a4a4a" stroke-width="1"/>
<rect x="1205.5" y="152.5" width="13" height="22" fill="#add8e6" stroke="#333b40" stroke-width="0.9"/>
<line x1="1205" y1="161.25" x2="1219" y2="161.25" stroke="#000" stroke-width="2.01"/>
<circle cx="1211.83" cy="114.25" r="1.69" fill="none" stroke="#3c3c3c" stroke-width="1"/>
<line x1="1243.5" y1="159.5" x2="1243.5" y2="143" stroke="#4a4a4a" stroke-width="1" stroke-dasharray="2.3 2.2"/>
<line x1="1240.19" y1="143.5" x2="1246.81" y2="143.5" stroke="#4a4a4a" stroke-width="1"/>
<line x1="1243.5" y1="177.5" x2="1243.5" y2="196.25" stroke="#4a4a4a" stroke-width="1" stroke-dasharray="2.3 2.2"/>
<line x1="1240.19" y1="196.5" x2="1246.81" y2="196.5" stroke="#4a4a4a" stroke-width="1"/>
<rect x="1236.5" y="159.5" width="14" height="18" fill="#add8e6" stroke="#333b40" stroke-width="0.9"/>
<line x1="1236" y1="166.5" x2="1251" y2="166.5" stroke="#000" stroke-width="2.01"/>
<line x1="1275.5" y1="154.5" x2="1275.5" y2="142.25" stroke="#4a4a4a" stroke-width="1" stroke-dasharray="2.3 2.2"/>
<line x1="1271.85" y1="142.5" x2="1278.48" y2="142.5" stroke="#4a4a4a" stroke-width="1"/>
<line x1="1275.5" y1="175.5" x2="1275.5" y2="187.5" stroke="#4a4a4a" stroke-width="1" stroke-dasharray="2.3 2.2"/>
<line x1="1271.85" y1="187.5" x2="1278.48" y2="187.5" stroke="#4a4a4a" stroke-width="1"/>
<rect x="1268.5" y="154.5" width="13" height="21" fill="#add8e6" stroke="#333b40" stroke-width="0.9"/>
<line x1="1268" y1="165.25" x2="1282" y2="165.25" stroke="#000" stroke-width="2.01"/>
<circle cx="1275.17" cy="114.25" r="1.69" fill="none" stroke="#3c3c3c" stroke-width="1"/>
<line x1="1306.5" y1="147.5" x2="1306.5" y2="139.5" stroke="#4a4a4a" stroke-width="1" stroke-dasharray="2.3 2.2"/>
<line x1="1303.52" y1="139.5" x2="1310.15" y2="139.5" stroke="#4a4a4a" stroke-width="1"/>
<line x1="1306.5" y1="180.5" x2="1306.5" y2="196.25" stroke="#4a4a4a" stroke-width="1" stroke-dasharray="2.3 2.2"/>
<line x1="1303.52" y1="196.5" x2="1310.15" y2="196.5" stroke="#4a4a4a" stroke-width="1"/>
<rect x="1300.5" y="147.5" width="13" height="33" fill="#add8e6" stroke="#333b40" stroke-width="0.9"/>
<line x1="1300" y1="163.75" x2="1314" y2="163.75" stroke="#000" stroke-width="2.01"/>
<line x1="1338.5" y1="152.5" x2="1338.5" y2="139.5" stroke="#4a4a4a" stroke-width="1" stroke-dasharray="2.3 2.2"/>
<line x1="1335.19" y1="139.5" x2="1341.81" y2="139.5" stroke="#4a4a4a" stroke-width="1"/>
<line x1="1338.5" y1="175.5" x2="1338.5" y2="196.25" stroke="#4a4a4a" stroke-width="1" stroke-dasharray="2.3 2.2"/>
<line x1="1335.19" y1="196.5" x2="1341.81" y2="196.5" stroke="#4a4a4a" stroke-width="1"/>
<rect x="1331.5" y="152.5" width="14" height="23" fill="#add8e6" stroke="#333b40" stroke-width="0.9"/>
<line x1="1331" y1="165.25" x2="1346" y2="165.25" stroke="#000" stroke-width="2.01"/>
<circle cx="1338.5" cy="114.25" r="1.69" fill="none" stroke="#3c3c3c" stroke-width="1"/>
<line x1="1370.5" y1="154.5" x2="1370.5" y2="142.25" stroke="#4a4a4a" stroke-width="1" stroke-dasharray="2.3 2.2"/>
<line x1="1366.85" y1="142.5" x2="1373.48" y2="142.5" stroke="#4a4a4a" stroke-width="1"/>
<line x1="1370.5" y1="174.5" x2="1370.5" y2="188.75" stroke="#4a4a4a" stroke-width="1" stroke-dasharray="2.3 2.2"/>
<line x1="1366.85" y1="188.5" x2="1373.48" y2="188.5" stroke="#4a4a4a" stroke-width="1"/>
<rect x="1363.5" y="154.5" width="13" height="20" fill="#add8e6" stroke="#333b40" stroke-width="0.9"/>
<line x1="1363" y1="165.25" x2="1377" y2="165.25" stroke="#000" stroke-width="2.01"/>
<rect x="1395.5" y="154.5" width="13" height="22" fill="#ff0000" stroke="#6a0000" stroke-width="0.9"/>
<line x1="1395" y1="165.25" x2="1409" y2="165.25" stroke="#2a0000" stroke-width="2.01"/>
<line x1="1433.5" y1="152.5" x2="1433.5" y2="142.25" stroke="#4a4a4a" stroke-width="1" stroke-dasharray="2.3 2.2"/>
<line x1="1430.19" y1="142.5" x2="1436.81" y2="142.5" stroke="#4a4a4a" stroke-width="1"/>
<line x1="1433.5" y1="175.5" x2="1433.5" y2="187.5" stroke="#4a4a4a" stroke-width="1" stroke-dasharray="2.3 2.2"/>
<line x1="1430.19" y1="187.5" x2="1436.81" y2="187.5" stroke="#4a4a4a" stroke-width="1"/>
<rect x="1426.5" y="152.5" width="14" height="23" fill="#ff0000" stroke="#6a0000" stroke-width="0.9"/>
<line x1="1426" y1="156.75" x2="1441" y2="156.75" stroke="#2a0000" stroke-width="2.01"/>
<rect x="1137.5" y="47.5" width="308" height="220" fill="none" stroke="#6c6c6c" stroke-width="1"/>
<line x1="1131.69" y1="55.5" x2="1137.5" y2="55.5" stroke="#6c6c6c" stroke-width="1"/>
<text transform="translate(1124.7,55.75) rotate(-90)" font-size="9.09" text-anchor="middle" fill="#111" textLength="11.84" lengthAdjust="spacingAndGlyphs" stroke="#111" stroke-width="0.25">1.0</text>
<line x1="1131.69" y1="106.5" x2="1137.5" y2="106.5" stroke="#6c6c6c" stroke-width="1"/>
<text transform="translate(1124.7,106.75) rotate(-90)" font-size="9.09" text-anchor="middle" fill="#111" textLength="11.84" lengthAdjust="spacingAndGlyphs" stroke="#111" stroke-width="0.25">0.5</text>
<line x1="1131.69" y1="157.5" x2="1137.5" y2="157.5" stroke="#6c6c6c" stroke-width="1"/>
<text transform="translate(1124.7,157.75) rotate(-90)" font-size="9.09" text-anchor="middle" fill="#111" textLength="11.84" lengthAdjust="spacingAndGlyphs" stroke="#111" stroke-width="0.25">0.0</text>
<line x1="1131.69" y1="208.5" x2="1137.5" y2="208.5" stroke="#6c6c6c" stroke-width="1"/>
<text transform="translate(1124.7,208.5) rotate(-90)" font-size="9.09" text-anchor="middle" fill="#111" textLength="15.22" lengthAdjust="spacingAndGlyphs" stroke="#111" stroke-width="0.25">-0.5</text>
<line x1="1131.69" y1="259.5" x2="1137.5" y2="259.5" stroke="#6c6c6c" stroke-width="1"/>
<text transform="translate(1124.7,259.5) rotate(-90)" font-size="9.09" text-anchor="middle" fill="#111" textLength="15.22" lengthAdjust="spacingAndGlyphs" stroke="#111" stroke-width="0.25">-1.0</text>
<line x1="1148.5" y1="267.5" x2="1148.5" y2="274.05" stroke="#6c6c6c" stroke-width="1"/>
<text transform="translate(1152.86,277.9) rotate(-90)" font-size="11.19" text-anchor="end" fill="#111" stroke="#111" stroke-width="0.25">DNMT1 (34)</text>
<line x1="1180.5" y1="267.5" x2="1180.5" y2="274.05" stroke="#6c6c6c" stroke-width="1"/>
<text transform="translate(1184.53,277.9) rotate(-90)" font-size="11.19" text-anchor="end" fill="#111" stroke="#111" stroke-width="0.25">control DNMT1 (16)</text>
<line x1="1211.5" y1="267.5" x2="1211.5" y2="274.05" stroke="#6c6c6c" stroke-width="1"/>
<text transform="translate(1216.2,277.9) rotate(-90)" font-size="11.19" text-anchor="end" fill="#111" stroke="#111" stroke-width="0.25">DNMT3A (26)</text>
<line x1="1243.5" y1="267.5" x2="1243.5" y2="274.05" stroke="#6c6c6c" stroke-width="1"/>
<text transform="translate(1247.86,277.9) rotate(-90)" font-size="11.19" text-anchor="end" fill="#111" stroke="#111" stroke-width="0.25">control DNMT3A (24)</text>
<line x1="1275.5" y1="267.5" x2="1275.5" y2="274.05" stroke="#6c6c6c" stroke-width="1"/>
<text transform="translate(1279.53,277.9) rotate(-90)" font-size="11.19" text-anchor="end" fill="#111" stroke="#111" stroke-width="0.25">SUV39H2 (42)</text>
<line x1="1306.5" y1="267.5" x2="1306.5" y2="274.05" stroke="#6c6c6c" stroke-width="1"/>
<text transform="translate(1311.2,277.9) rotate(-90)" font-size="11.19" text-anchor="end" fill="#111" stroke="#111" stroke-width="0.25">control SUV39H2 (8)</text>
<line x1="1338.5" y1="267.5" x2="1338.5" y2="274.05" stroke="#6c6c6c" stroke-width="1"/>
<text transform="translate(1342.86,277.9) rotate(-90)" font-size="11.19" text-anchor="end" fill="#111" stroke="#111" stroke-width="0.25">KDM5B (35)</text>
<line x1="1370.5" y1="267.5" x2="1370.5" y2="274.05" stroke="#6c6c6c" stroke-width="1"/>
<text transform="translate(1374.53,277.9) rotate(-90)" font-size="11.19" text-anchor="end" fill="#111" stroke="#111" stroke-width="0.25">control KDM5B (15)</text>
<line x1="1401.5" y1="267.5" x2="1401.5" y2="274.05" stroke="#6c6c6c" stroke-width="1"/>
<text transform="translate(1406.2,277.9) rotate(-90)" font-size="11.19" text-anchor="end" fill="#111" stroke="#111" stroke-width="0.25">MLL2 (2)</text>
<line x1="1433.5" y1="267.5" x2="1433.5" y2="274.05" stroke="#6c6c6c" stroke-width="1"/>
<text transform="translate(1437.86,277.9) rotate(-90)" font-size="11.19" text-anchor="end" fill="#111" stroke="#111" stroke-width="0.25">control MLL2 (14)</text>
<text transform="translate(1102.4,275.75) rotate(-90)" font-size="9.72" text-anchor="start" fill="#3a3a3a" textLength="236.25" lengthAdjust="spacingAndGlyphs" stroke="#3a3a3a" stroke-width="0.2">log2(averge tumor expression/average normal expression)</text>
<g transform="translate(0,87.35)" font-size="34.2" stroke="#000" stroke-width="0.3">
<text x="1222.48" textLength="15.61" lengthAdjust="spacingAndGlyphs">L</text>
<text x="1237.66">U</text>
<text x="1261.92" textLength="17.06" lengthAdjust="spacingAndGlyphs">S</text>
<text x="1278.99" textLength="19.8" lengthAdjust="spacingAndGlyphs">C</text>
</g>
</g>
<g>
<line x1="220.5" y1="511.5" x2="220.5" y2="493" stroke="#4a4a4a" stroke-width="1" stroke-dasharray="2.3 2.2"/>
<line x1="218.12" y1="493.5" x2="223.38" y2="493.5" stroke="#4a4a4a" stroke-width="1"/>
<line x1="220.5" y1="525.5" x2="220.5" y2="534.25" stroke="#4a4a4a" stroke-width="1" stroke-dasharray="2.3 2.2"/>
<line x1="218.12" y1="534.5" x2="223.38" y2="534.5" stroke="#4a4a4a" stroke-width="1"/>
<rect x="215.5" y="511.5" width="11" height="14" fill="#add8e6" stroke="#333b40" stroke-width="0.9"/>
<line x1="215" y1="520.25" x2="227" y2="520.25" stroke="#000" stroke-width="1.98"/>
<circle cx="220.75" cy="464.25" r="1.67" fill="none" stroke="#3c3c3c" stroke-width="1"/>
<circle cx="220.75" cy="479.75" r="1.67" fill="none" stroke="#3c3c3c" stroke-width="1"/>
<circle cx="220.75" cy="485.25" r="1.67" fill="none" stroke="#3c3c3c" stroke-width="1"/>
<circle cx="220.75" cy="551.5" r="1.67" fill="none" stroke="#3c3c3c" stroke-width="1"/>
<line x1="246.5" y1="508.5" x2="246.5" y2="476.5" stroke="#4a4a4a" stroke-width="1" stroke-dasharray="2.3 2.2"/>
<line x1="243.76" y1="476.5" x2="249.01" y2="476.5" stroke="#4a4a4a" stroke-width="1"/>
<line x1="246.5" y1="530.5" x2="246.5" y2="553.75" stroke="#4a4a4a" stroke-width="1" stroke-dasharray="2.3 2.2"/>
<line x1="243.76" y1="553.5" x2="249.01" y2="553.5" stroke="#4a4a4a" stroke-width="1"/>
<rect x="241.5" y="508.5" width="10" height="22" fill="#add8e6" stroke="#333b40" stroke-width="0.9"/>
<line x1="241" y1="519.5" x2="252" y2="519.5" stroke="#000" stroke-width="1.98"/>
<circle cx="246.39" cy="462.5" r="1.67" fill="none" stroke="#3c3c3c" stroke-width="1"/>
<circle cx="246.39" cy="473.5" r="1.67" fill="none" stroke="#3c3c3c" stroke-width="1"/>
<line x1="272.5" y1="506.5" x2="272.5" y2="479.5" stroke="#4a4a4a" stroke-width="1" stroke-dasharray="2.3 2.2"/>
<line x1="269.4" y1="479.5" x2="274.65" y2="479.5" stroke="#4a4a4a" stroke-width="1"/>
<line x1="272.5" y1="525.5" x2="272.5" y2="534.25" stroke="#4a4a4a" stroke-width="1" stroke-dasharray="2.3 2.2"/>
<line x1="269.4" y1="534.5" x2="274.65" y2="534.5" stroke="#4a4a4a" stroke-width="1"/>
<rect x="266.5" y="506.5" width="11" height="19" fill="#add8e6" stroke="#333b40" stroke-width="0.9"/>
<line x1="266" y1="520.75" x2="278" y2="520.75" stroke="#000" stroke-width="1.98"/>
<circle cx="272.02" cy="463" r="1.67" fill="none" stroke="#3c3c3c" stroke-width="1"/>
<circle cx="272.02" cy="464.5" r="1.67" fill="none" stroke="#3c3c3c" stroke-width="1"/>
<line x1="297.5" y1="509.5" x2="297.5" y2="489.75" stroke="#4a4a4a" stroke-width="1" stroke-dasharray="2.3 2.2"/>
<line x1="295.03" y1="489.5" x2="300.28" y2="489.5" stroke="#4a4a4a" stroke-width="1"/>
<line x1="297.5" y1="530.5" x2="297.5" y2="553.75" stroke="#4a4a4a" stroke-width="1" stroke-dasharray="2.3 2.2"/>
<line x1="295.03" y1="553.5" x2="300.28" y2="553.5" stroke="#4a4a4a" stroke-width="1"/>
<rect x="292.5" y="509.5" width="10" height="21" fill="#add8e6" stroke="#333b40" stroke-width="0.9"/>
<line x1="292" y1="519" x2="303" y2="519" stroke="#000" stroke-width="1.98"/>
<circle cx="297.66" cy="473.5" r="1.67" fill="none" stroke="#3c3c3c" stroke-width="1"/>
<circle cx="297.66" cy="477.25" r="1.67" fill="none" stroke="#3c3c3c" stroke-width="1"/>
<line x1="323.5" y1="509.5" x2="323.5" y2="485.25" stroke="#4a4a4a" stroke-width="1" stroke-dasharray="2.3 2.2"/>
<line x1="320.67" y1="485.5" x2="325.92" y2="485.5" stroke="#4a4a4a" stroke-width="1"/>
<line x1="323.5" y1="527.5" x2="323.5" y2="553.75" stroke="#4a4a4a" stroke-width="1" stroke-dasharray="2.3 2.2"/>
<line x1="320.67" y1="553.5" x2="325.92" y2="553.5" stroke="#4a4a4a" stroke-width="1"/>
<rect x="318.5" y="509.5" width="10" height="18" fill="#add8e6" stroke="#333b40" stroke-width="0.9"/>
<line x1="318" y1="520.25" x2="329" y2="520.25" stroke="#000" stroke-width="1.98"/>
<circle cx="323.3" cy="462.5" r="1.67" fill="none" stroke="#3c3c3c" stroke-width="1"/>
<circle cx="323.3" cy="464" r="1.67" fill="none" stroke="#3c3c3c" stroke-width="1"/>
<circle cx="323.3" cy="477" r="1.67" fill="none" stroke="#3c3c3c" stroke-width="1"/>
<circle cx="323.3" cy="479.5" r="1.67" fill="none" stroke="#3c3c3c" stroke-width="1"/>
<line x1="348.5" y1="518.5" x2="348.5" y2="533" stroke="#4a4a4a" stroke-width="1" stroke-dasharray="2.3 2.2"/>
<line x1="346.31" y1="533.5" x2="351.56" y2="533.5" stroke="#4a4a4a" stroke-width="1"/>
<rect x="343.5" y="501.5" width="11" height="17" fill="#add8e6" stroke="#333b40" stroke-width="0.9"/>
<line x1="343" y1="508.5" x2="355" y2="508.5" stroke="#000" stroke-width="1.98"/>
<circle cx="348.93" cy="473.5" r="1.67" fill="none" stroke="#3c3c3c" stroke-width="1"/>
<line x1="374.5" y1="512.5" x2="374.5" y2="489.75" stroke="#4a4a4a" stroke-width="1" stroke-dasharray="2.3 2.2"/>
<line x1="371.94" y1="489.5" x2="377.19" y2="489.5" stroke="#4a4a4a" stroke-width="1"/>
<line x1="374.5" y1="527.5" x2="374.5" y2="548" stroke="#4a4a4a" stroke-width="1" stroke-dasharray="2.3 2.2"/>
<line x1="371.94" y1="548.5" x2="377.19" y2="548.5" stroke="#4a4a4a" stroke-width="1"/>
<rect x="369.5" y="512.5" width="10" height="15" fill="#add8e6" stroke="#333b40" stroke-width="0.9"/>
<line x1="369" y1="519.5" x2="380" y2="519.5" stroke="#000" stroke-width="1.98"/>
<circle cx="374.57" cy="464.25" r="1.67" fill="none" stroke="#3c3c3c" stroke-width="1"/>
<circle cx="374.57" cy="477" r="1.67" fill="none" stroke="#3c3c3c" stroke-width="1"/>
<circle cx="374.57" cy="479.75" r="1.67" fill="none" stroke="#3c3c3c" stroke-width="1"/>
<circle cx="374.57" cy="485.25" r="1.67" fill="none" stroke="#3c3c3c" stroke-width="1"/>
<circle cx="374.57" cy="551.5" r="1.67" fill="none" stroke="#3c3c3c" stroke-width="1"/>
<circle cx="374.57" cy="553.75" r="1.67" fill="none" stroke="#3c3c3c" stroke-width="1"/>
<line x1="400.5" y1="508.5" x2="400.5" y2="501.25" stroke="#4a4a4a" stroke-width="1" stroke-dasharray="2.3 2.2"/>
<line x1="397.58" y1="501.5" x2="402.83" y2="501.5" stroke="#4a4a4a" stroke-width="1"/>
<line x1="400.5" y1="525.5" x2="400.5" y2="536.75" stroke="#4a4a4a" stroke-width="1" stroke-dasharray="2.3 2.2"/>
<line x1="397.58" y1="536.5" x2="402.83" y2="536.5" stroke="#4a4a4a" stroke-width="1"/>
<rect x="394.5" y="508.5" width="11" height="17" fill="#add8e6" stroke="#333b40" stroke-width="0.9"/>
<line x1="394" y1="518.5" x2="406" y2="518.5" stroke="#000" stroke-width="1.98"/>
<circle cx="400.2" cy="462.5" r="1.67" fill="none" stroke="#3c3c3c" stroke-width="1"/>
<circle cx="400.2" cy="473.5" r="1.67" fill="none" stroke="#3c3c3c" stroke-width="1"/>
<circle cx="400.2" cy="477.5" r="1.67" fill="none" stroke="#3c3c3c" stroke-width="1"/>
<line x1="425.5" y1="499.5" x2="425.5" y2="462.5" stroke="#4a4a4a" stroke-width="1" stroke-dasharray="2.3 2.2"/>
<line x1="423.22" y1="462.5" x2="428.47" y2="462.5" stroke="#4a4a4a" stroke-width="1"/>
<line x1="425.5" y1="525.5" x2="425.5" y2="541.25" stroke="#4a4a4a" stroke-width="1" stroke-dasharray="2.3 2.2"/>
<line x1="423.22" y1="541.5" x2="428.47" y2="541.5" stroke="#4a4a4a" stroke-width="1"/>
<rect x="420.5" y="499.5" width="11" height="26" fill="#add8e6" stroke="#333b40" stroke-width="0.9"/>
<line x1="420" y1="518.5" x2="432" y2="518.5" stroke="#000" stroke-width="1.98"/>
<line x1="451.5" y1="512.5" x2="451.5" y2="501.25" stroke="#4a4a4a" stroke-width="1" stroke-dasharray="2.3 2.2"/>
<line x1="448.85" y1="501.5" x2="454.1" y2="501.5" stroke="#4a4a4a" stroke-width="1"/>
<line x1="451.5" y1="530.5" x2="451.5" y2="553.75" stroke="#4a4a4a" stroke-width="1" stroke-dasharray="2.3 2.2"/>
<line x1="448.85" y1="553.5" x2="454.1" y2="553.5" stroke="#4a4a4a" stroke-width="1"/>
<rect x="446.5" y="512.5" width="10" height="18" fill="#add8e6" stroke="#333b40" stroke-width="0.9"/>
<line x1="446" y1="520.25" x2="457" y2="520.25" stroke="#000" stroke-width="1.98"/>
<circle cx="451.48" cy="473.5" r="1.67" fill="none" stroke="#3c3c3c" stroke-width="1"/>
<circle cx="451.48" cy="477.25" r="1.67" fill="none" stroke="#3c3c3c" stroke-width="1"/>
<line x1="477.5" y1="499.5" x2="477.5" y2="494.5" stroke="#4a4a4a" stroke-width="1" stroke-dasharray="2.3 2.2"/>
<line x1="474.49" y1="494.5" x2="479.74" y2="494.5" stroke="#4a4a4a" stroke-width="1"/>
<line x1="477.5" y1="533.5" x2="477.5" y2="538" stroke="#4a4a4a" stroke-width="1" stroke-dasharray="2.3 2.2"/>
<line x1="474.49" y1="538.5" x2="479.74" y2="538.5" stroke="#4a4a4a" stroke-width="1"/>
<rect x="471.5" y="499.5" width="11" height="34" fill="#ff0000" stroke="#6a0000" stroke-width="0.9"/>
<line x1="471" y1="525.25" x2="483" y2="525.25" stroke="#2a0000" stroke-width="1.98"/>
<line x1="502.5" y1="509.5" x2="502.5" y2="485.25" stroke="#4a4a4a" stroke-width="1" stroke-dasharray="2.3 2.2"/>
<line x1="500.12" y1="485.5" x2="505.38" y2="485.5" stroke="#4a4a4a" stroke-width="1"/>
<line x1="502.5" y1="526.5" x2="502.5" y2="548" stroke="#4a4a4a" stroke-width="1" stroke-dasharray="2.3 2.2"/>
<line x1="500.12" y1="548.5" x2="505.38" y2="548.5" stroke="#4a4a4a" stroke-width="1"/>
<rect x="497.5" y="509.5" width="11" height="17" fill="#ff0000" stroke="#6a0000" stroke-width="0.9"/>
<line x1="497" y1="519.5" x2="509" y2="519.5" stroke="#2a0000" stroke-width="1.98"/>
<circle cx="502.75" cy="462.5" r="1.67" fill="none" stroke="#3c3c3c" stroke-width="1"/>
<circle cx="502.75" cy="464" r="1.67" fill="none" stroke="#3c3c3c" stroke-width="1"/>
<circle cx="502.75" cy="473.5" r="1.67" fill="none" stroke="#3c3c3c" stroke-width="1"/>
<circle cx="502.75" cy="477" r="1.67" fill="none" stroke="#3c3c3c" stroke-width="1"/>
<circle cx="502.75" cy="551.5" r="1.67" fill="none" stroke="#3c3c3c" stroke-width="1"/>
<circle cx="502.75" cy="553.75" r="1.67" fill="none" stroke="#3c3c3c" stroke-width="1"/>
<rect x="209.5" y="397.5" width="304" height="217" fill="none" stroke="#6c6c6c" stroke-width="1"/>
<line x1="203.77" y1="405.5" x2="209.5" y2="405.5" stroke="#6c6c6c" stroke-width="1"/>
<text transform="translate(197.3,405) rotate(-90)" font-size="8.97" text-anchor="middle" fill="#111" textLength="11.68" lengthAdjust="spacingAndGlyphs" stroke="#111" stroke-width="0.25">1.0</text>
<line x1="203.77" y1="455.5" x2="209.5" y2="455.5" stroke="#6c6c6c" stroke-width="1"/>
<text transform="translate(197.3,455.5) rotate(-90)" font-size="8.97" text-anchor="middle" fill="#111" textLength="11.68" lengthAdjust="spacingAndGlyphs" stroke="#111" stroke-width="0.25">0.5</text>
<line x1="203.77" y1="505.5" x2="209.5" y2="505.5" stroke="#6c6c6c" stroke-width="1"/>
<text transform="translate(197.3,505.75) rotate(-90)" font-size="8.97" text-anchor="middle" fill="#111" textLength="11.68" lengthAdjust="spacingAndGlyphs" stroke="#111" stroke-width="0.25">0.0</text>
<line x1="203.77" y1="555.5" x2="209.5" y2="555.5" stroke="#6c6c6c" stroke-width="1"/>
<text transform="translate(197.3,555.5) rotate(-90)" font-size="8.97" text-anchor="middle" fill="#111" textLength="15.01" lengthAdjust="spacingAndGlyphs" stroke="#111" stroke-width="0.25">-0.5</text>
<line x1="203.77" y1="606.5" x2="209.5" y2="606.5" stroke="#6c6c6c" stroke-width="1"/>
<text transform="translate(197.3,606) rotate(-90)" font-size="8.97" text-anchor="middle" fill="#111" textLength="15.01" lengthAdjust="spacingAndGlyphs" stroke="#111" stroke-width="0.25">-1.0</text>
<line x1="220.5" y1="614.5" x2="220.5" y2="620.96" stroke="#6c6c6c" stroke-width="1"/>
<text transform="translate(225.04,624.7) rotate(-90)" font-size="11.01" text-anchor="end" fill="#111" stroke="#111" stroke-width="0.25">DNMT3A (42)</text>
<line x1="246.5" y1="614.5" x2="246.5" y2="620.96" stroke="#6c6c6c" stroke-width="1"/>
<text transform="translate(250.68,624.7) rotate(-90)" font-size="11.01" text-anchor="end" fill="#111" stroke="#111" stroke-width="0.25">control DNMT3A (72)</text>
<line x1="272.5" y1="614.5" x2="272.5" y2="620.96" stroke="#6c6c6c" stroke-width="1"/>
<text transform="translate(276.32,624.7) rotate(-90)" font-size="11.01" text-anchor="end" fill="#111" stroke="#111" stroke-width="0.25">DNMT1 (44)</text>
<line x1="297.5" y1="614.5" x2="297.5" y2="620.96" stroke="#6c6c6c" stroke-width="1"/>
<text transform="translate(301.95,624.7) rotate(-90)" font-size="11.01" text-anchor="end" fill="#111" stroke="#111" stroke-width="0.25">control DNMT1 (70)</text>
<line x1="323.5" y1="614.5" x2="323.5" y2="620.96" stroke="#6c6c6c" stroke-width="1"/>
<text transform="translate(327.59,624.7) rotate(-90)" font-size="11.01" text-anchor="end" fill="#111" stroke="#111" stroke-width="0.25">UHRF1 (108)</text>
<line x1="348.5" y1="614.5" x2="348.5" y2="620.96" stroke="#6c6c6c" stroke-width="1"/>
<text transform="translate(353.23,624.7) rotate(-90)" font-size="11.01" text-anchor="end" fill="#111" stroke="#111" stroke-width="0.25">control UHRF1 (6)</text>
<line x1="374.5" y1="614.5" x2="374.5" y2="620.96" stroke="#6c6c6c" stroke-width="1"/>
<text transform="translate(378.86,624.7) rotate(-90)" font-size="11.01" text-anchor="end" fill="#111" stroke="#111" stroke-width="0.25">EZH2 (85)</text>
<line x1="400.5" y1="614.5" x2="400.5" y2="620.96" stroke="#6c6c6c" stroke-width="1"/>
<text transform="translate(404.5,624.7) rotate(-90)" font-size="11.01" text-anchor="end" fill="#111" stroke="#111" stroke-width="0.25">control EZH2 (29)</text>
<line x1="425.5" y1="614.5" x2="425.5" y2="620.96" stroke="#6c6c6c" stroke-width="1"/>
<text transform="translate(430.13,624.7) rotate(-90)" font-size="11.01" text-anchor="end" fill="#111" stroke="#111" stroke-width="0.25">KDM5B (51)</text>
<line x1="451.5" y1="614.5" x2="451.5" y2="620.96" stroke="#6c6c6c" stroke-width="1"/>
<text transform="translate(455.77,624.7) rotate(-90)" font-size="11.01" text-anchor="end" fill="#111" stroke="#111" stroke-width="0.25">control KDM5B (63)</text>
<line x1="477.5" y1="614.5" x2="477.5" y2="620.96" stroke="#6c6c6c" stroke-width="1"/>
<text transform="translate(481.41,624.7) rotate(-90)" font-size="11.01" text-anchor="end" fill="#111" stroke="#111" stroke-width="0.25">MLL3 (6)</text>
<line x1="502.5" y1="614.5" x2="502.5" y2="620.96" stroke="#6c6c6c" stroke-width="1"/>
<text transform="translate(507.04,624.7) rotate(-90)" font-size="11.01" text-anchor="end" fill="#111" stroke="#111" stroke-width="0.25">control MLL3 (103)</text>
<text transform="translate(174.9,623.25) rotate(-90)" font-size="9.59" text-anchor="start" fill="#3a3a3a" textLength="234.5" lengthAdjust="spacingAndGlyphs" stroke="#3a3a3a" stroke-width="0.2">log2(averge tumor expression/average normal expression)</text>
<g transform="translate(0,442.35)" font-size="34.2" stroke="#000" stroke-width="0.3">
<text x="315.77" textLength="20.47" lengthAdjust="spacingAndGlyphs">B</text>
<text x="336.24" textLength="20.43" lengthAdjust="spacingAndGlyphs">R</text>
<text x="356.67" textLength="20.07" lengthAdjust="spacingAndGlyphs">C</text>
<text x="376.74" textLength="21.78" lengthAdjust="spacingAndGlyphs">A</text>
</g>
</g>
<g>
<line x1="707.5" y1="499.5" x2="707.5" y2="483.5" stroke="#4a4a4a" stroke-width="1" stroke-dasharray="2.3 2.2"/>
<line x1="701.38" y1="483.5" x2="712.62" y2="483.5" stroke="#4a4a4a" stroke-width="1"/>
<line x1="707.5" y1="513.5" x2="707.5" y2="527.25" stroke="#4a4a4a" stroke-width="1" stroke-dasharray="2.3 2.2"/>
<line x1="701.38" y1="527.5" x2="712.62" y2="527.5" stroke="#4a4a4a" stroke-width="1"/>
<rect x="695.5" y="499.5" width="23" height="14" fill="#add8e6" stroke="#333b40" stroke-width="0.9"/>
<line x1="695" y1="504.5" x2="719" y2="504.5" stroke="#000" stroke-width="1.96"/>
<circle cx="707" cy="544.25" r="1.65" fill="none" stroke="#3c3c3c" stroke-width="1"/>
<line x1="762.5" y1="503.5" x2="762.5" y2="493.25" stroke="#4a4a4a" stroke-width="1" stroke-dasharray="2.3 2.2"/>
<line x1="757.12" y1="493.5" x2="768.38" y2="493.5" stroke="#4a4a4a" stroke-width="1"/>
<line x1="762.5" y1="521.5" x2="762.5" y2="531.75" stroke="#4a4a4a" stroke-width="1" stroke-dasharray="2.3 2.2"/>
<line x1="757.12" y1="531.5" x2="768.38" y2="531.5" stroke="#4a4a4a" stroke-width="1"/>
<rect x="751.5" y="503.5" width="23" height="18" fill="#add8e6" stroke="#333b40" stroke-width="0.9"/>
<line x1="751" y1="517" x2="775" y2="517" stroke="#000" stroke-width="1.96"/>
<line x1="818.5" y1="499.5" x2="818.5" y2="483.5" stroke="#4a4a4a" stroke-width="1" stroke-dasharray="2.3 2.2"/>
<line x1="812.88" y1="483.5" x2="824.12" y2="483.5" stroke="#4a4a4a" stroke-width="1"/>
<line x1="818.5" y1="512.5" x2="818.5" y2="527.25" stroke="#4a4a4a" stroke-width="1" stroke-dasharray="2.3 2.2"/>
<line x1="812.88" y1="527.5" x2="824.12" y2="527.5" stroke="#4a4a4a" stroke-width="1"/>
<rect x="807.5" y="499.5" width="22" height="13" fill="#add8e6" stroke="#333b40" stroke-width="0.9"/>
<line x1="807" y1="504.5" x2="830" y2="504.5" stroke="#000" stroke-width="1.96"/>
<circle cx="818.5" cy="544.25" r="1.65" fill="none" stroke="#3c3c3c" stroke-width="1"/>
<line x1="874.5" y1="503.5" x2="874.5" y2="493.25" stroke="#4a4a4a" stroke-width="1" stroke-dasharray="2.3 2.2"/>
<line x1="868.62" y1="493.5" x2="879.88" y2="493.5" stroke="#4a4a4a" stroke-width="1"/>
<line x1="874.5" y1="520.5" x2="874.5" y2="531.75" stroke="#4a4a4a" stroke-width="1" stroke-dasharray="2.3 2.2"/>
<line x1="868.62" y1="531.5" x2="879.88" y2="531.5" stroke="#4a4a4a" stroke-width="1"/>
<rect x="863.5" y="503.5" width="22" height="17" fill="#add8e6" stroke="#333b40" stroke-width="0.9"/>
<line x1="863" y1="514.25" x2="886" y2="514.25" stroke="#000" stroke-width="1.96"/>
<line x1="930.5" y1="498.5" x2="930.5" y2="483.5" stroke="#4a4a4a" stroke-width="1" stroke-dasharray="2.3 2.2"/>
<line x1="924.38" y1="483.5" x2="935.62" y2="483.5" stroke="#4a4a4a" stroke-width="1"/>
<line x1="930.5" y1="514.5" x2="930.5" y2="527.25" stroke="#4a4a4a" stroke-width="1" stroke-dasharray="2.3 2.2"/>
<line x1="924.38" y1="527.5" x2="935.62" y2="527.5" stroke="#4a4a4a" stroke-width="1"/>
<rect x="918.5" y="498.5" width="23" height="16" fill="#ff0000" stroke="#6a0000" stroke-width="0.9"/>
<line x1="918" y1="503.75" x2="942" y2="503.75" stroke="#2a0000" stroke-width="1.96"/>
<line x1="985.5" y1="499.5" x2="985.5" y2="489.25" stroke="#4a4a4a" stroke-width="1" stroke-dasharray="2.3 2.2"/>
<line x1="980.12" y1="489.5" x2="991.38" y2="489.5" stroke="#4a4a4a" stroke-width="1"/>
<line x1="985.5" y1="513.5" x2="985.5" y2="531.75" stroke="#4a4a4a" stroke-width="1" stroke-dasharray="2.3 2.2"/>
<line x1="980.12" y1="531.5" x2="991.38" y2="531.5" stroke="#4a4a4a" stroke-width="1"/>
<rect x="974.5" y="499.5" width="23" height="14" fill="#ff0000" stroke="#6a0000" stroke-width="0.9"/>
<line x1="974" y1="506.5" x2="998" y2="506.5" stroke="#2a0000" stroke-width="1.96"/>
<circle cx="985.75" cy="544.25" r="1.65" fill="none" stroke="#3c3c3c" stroke-width="1"/>
<rect x="695.5" y="396.5" width="302" height="214" fill="none" stroke="#6c6c6c" stroke-width="1"/>
<line x1="689.82" y1="403.5" x2="695.5" y2="403.5" stroke="#6c6c6c" stroke-width="1"/>
<text transform="translate(683.4,403.75) rotate(-90)" font-size="8.89" text-anchor="middle" fill="#111" textLength="11.57" lengthAdjust="spacingAndGlyphs" stroke="#111" stroke-width="0.25">1.0</text>
<line x1="689.82" y1="453.5" x2="695.5" y2="453.5" stroke="#6c6c6c" stroke-width="1"/>
<text transform="translate(683.4,453.75) rotate(-90)" font-size="8.89" text-anchor="middle" fill="#111" textLength="11.57" lengthAdjust="spacingAndGlyphs" stroke="#111" stroke-width="0.25">0.5</text>
<line x1="689.82" y1="503.5" x2="695.5" y2="503.5" stroke="#6c6c6c" stroke-width="1"/>
<text transform="translate(683.4,503.5) rotate(-90)" font-size="8.89" text-anchor="middle" fill="#111" textLength="11.57" lengthAdjust="spacingAndGlyphs" stroke="#111" stroke-width="0.25">0.0</text>
<line x1="689.82" y1="553.5" x2="695.5" y2="553.5" stroke="#6c6c6c" stroke-width="1"/>
<text transform="translate(683.4,553.25) rotate(-90)" font-size="8.89" text-anchor="middle" fill="#111" textLength="14.88" lengthAdjust="spacingAndGlyphs" stroke="#111" stroke-width="0.25">-0.5</text>
<line x1="689.82" y1="603.5" x2="695.5" y2="603.5" stroke="#6c6c6c" stroke-width="1"/>
<text transform="translate(683.4,603) rotate(-90)" font-size="8.89" text-anchor="middle" fill="#111" textLength="14.88" lengthAdjust="spacingAndGlyphs" stroke="#111" stroke-width="0.25">-1.0</text>
<line x1="707.5" y1="610.5" x2="707.5" y2="616.91" stroke="#6c6c6c" stroke-width="1"/>
<text transform="translate(711.28,621.2) rotate(-90)" font-size="10.98" text-anchor="end" fill="#111" stroke="#111" stroke-width="0.25">UHRF1 (62)</text>
<line x1="762.5" y1="610.5" x2="762.5" y2="616.91" stroke="#6c6c6c" stroke-width="1"/>
<text transform="translate(767.03,621.2) rotate(-90)" font-size="10.98" text-anchor="end" fill="#111" stroke="#111" stroke-width="0.25">control UHRF1 (11)</text>
<line x1="818.5" y1="610.5" x2="818.5" y2="616.91" stroke="#6c6c6c" stroke-width="1"/>
<text transform="translate(822.78,621.2) rotate(-90)" font-size="10.98" text-anchor="end" fill="#111" stroke="#111" stroke-width="0.25">EZH2 (60)</text>
<line x1="874.5" y1="610.5" x2="874.5" y2="616.91" stroke="#6c6c6c" stroke-width="1"/>
<text transform="translate(878.53,621.2) rotate(-90)" font-size="10.98" text-anchor="end" fill="#111" stroke="#111" stroke-width="0.25">control EZH2 (13)</text>
<line x1="930.5" y1="610.5" x2="930.5" y2="616.91" stroke="#6c6c6c" stroke-width="1"/>
<text transform="translate(934.28,621.2) rotate(-90)" font-size="10.98" text-anchor="end" fill="#111" stroke="#111" stroke-width="0.25">SETD2 (12)</text>
<line x1="985.5" y1="610.5" x2="985.5" y2="616.91" stroke="#6c6c6c" stroke-width="1"/>
<text transform="translate(990.03,621.2) rotate(-90)" font-size="10.98" text-anchor="end" fill="#111" stroke="#111" stroke-width="0.25">control SETD2 (51)</text>
<text transform="translate(661.8,619.5) rotate(-90)" font-size="9.51" text-anchor="start" fill="#3a3a3a" textLength="230.75" lengthAdjust="spacingAndGlyphs" stroke="#3a3a3a" stroke-width="0.2">log2(averge tumor expression/average normal expression)</text>
<g transform="translate(0,447.35)" font-size="34.2" stroke="#000" stroke-width="0.3">
<text x="812.05" textLength="20.18" lengthAdjust="spacingAndGlyphs">K</text>
<text x="832.38">I</text>
<text x="842.03" textLength="21.1" lengthAdjust="spacingAndGlyphs">R</text>
<text x="863.12" textLength="20.72" lengthAdjust="spacingAndGlyphs">C</text>
</g>
</g>
<g>
<line x1="1206.5" y1="517.5" x2="1206.5" y2="506.5" stroke="#4a4a4a" stroke-width="1" stroke-dasharray="2.3 2.2"/>
<line x1="1200.12" y1="506.5" x2="1211.88" y2="506.5" stroke="#4a4a4a" stroke-width="1"/>
<line x1="1206.5" y1="540.5" x2="1206.5" y2="562.5" stroke="#4a4a4a" stroke-width="1" stroke-dasharray="2.3 2.2"/>
<line x1="1200.12" y1="562.5" x2="1211.88" y2="562.5" stroke="#4a4a4a" stroke-width="1"/>
<rect x="1194.5" y="517.5" width="23" height="23" fill="#add8e6" stroke="#333b40" stroke-width="0.9"/>
<line x1="1194" y1="528" x2="1218" y2="528" stroke="#000" stroke-width="2.02"/>
<line x1="1263.5" y1="540.5" x2="1263.5" y2="544" stroke="#4a4a4a" stroke-width="1" stroke-dasharray="2.3 2.2"/>
<line x1="1257.54" y1="544.5" x2="1269.29" y2="544.5" stroke="#4a4a4a" stroke-width="1"/>
<rect x="1251.5" y="522.5" width="24" height="18" fill="#add8e6" stroke="#333b40" stroke-width="0.9"/>
<line x1="1251" y1="532.75" x2="1276" y2="532.75" stroke="#000" stroke-width="2.02"/>
<line x1="1320.5" y1="517.5" x2="1320.5" y2="506.5" stroke="#4a4a4a" stroke-width="1" stroke-dasharray="2.3 2.2"/>
<line x1="1314.96" y1="506.5" x2="1326.71" y2="506.5" stroke="#4a4a4a" stroke-width="1"/>
<line x1="1320.5" y1="533.5" x2="1320.5" y2="549.75" stroke="#4a4a4a" stroke-width="1" stroke-dasharray="2.3 2.2"/>
<line x1="1314.96" y1="549.5" x2="1326.71" y2="549.5" stroke="#4a4a4a" stroke-width="1"/>
<rect x="1309.5" y="517.5" width="23" height="16" fill="#add8e6" stroke="#333b40" stroke-width="0.9"/>
<line x1="1309" y1="525.5" x2="1333" y2="525.5" stroke="#000" stroke-width="2.02"/>
<circle cx="1320.83" cy="471.5" r="1.7" fill="none" stroke="#3c3c3c" stroke-width="1"/>
<line x1="1378.5" y1="528.5" x2="1378.5" y2="514.25" stroke="#4a4a4a" stroke-width="1" stroke-dasharray="2.3 2.2"/>
<line x1="1372.38" y1="514.5" x2="1384.12" y2="514.5" stroke="#4a4a4a" stroke-width="1"/>
<line x1="1378.5" y1="544.5" x2="1378.5" y2="562.5" stroke="#4a4a4a" stroke-width="1" stroke-dasharray="2.3 2.2"/>
<line x1="1372.38" y1="562.5" x2="1384.12" y2="562.5" stroke="#4a4a4a" stroke-width="1"/>
<rect x="1366.5" y="528.5" width="24" height="16" fill="#add8e6" stroke="#333b40" stroke-width="0.9"/>
<line x1="1366" y1="532.5" x2="1391" y2="532.5" stroke="#000" stroke-width="2.02"/>
<rect x="1137.5" y="406.5" width="310" height="220" fill="none" stroke="#6c6c6c" stroke-width="1"/>
<line x1="1131.67" y1="414.5" x2="1137.5" y2="414.5" stroke="#6c6c6c" stroke-width="1"/>
<text transform="translate(1125,414.5) rotate(-90)" font-size="9.12" text-anchor="middle" fill="#111" textLength="11.88" lengthAdjust="spacingAndGlyphs" stroke="#111" stroke-width="0.25">1.0</text>
<line x1="1131.67" y1="465.5" x2="1137.5" y2="465.5" stroke="#6c6c6c" stroke-width="1"/>
<text transform="translate(1125,465.75) rotate(-90)" font-size="9.12" text-anchor="middle" fill="#111" textLength="11.88" lengthAdjust="spacingAndGlyphs" stroke="#111" stroke-width="0.25">0.5</text>
<line x1="1131.67" y1="516.5" x2="1137.5" y2="516.5" stroke="#6c6c6c" stroke-width="1"/>
<text transform="translate(1125,516.75) rotate(-90)" font-size="9.12" text-anchor="middle" fill="#111" textLength="11.88" lengthAdjust="spacingAndGlyphs" stroke="#111" stroke-width="0.25">0.0</text>
<line x1="1131.67" y1="567.5" x2="1137.5" y2="567.5" stroke="#6c6c6c" stroke-width="1"/>
<text transform="translate(1125,567.75) rotate(-90)" font-size="9.12" text-anchor="middle" fill="#111" textLength="15.27" lengthAdjust="spacingAndGlyphs" stroke="#111" stroke-width="0.25">-0.5</text>
<line x1="1131.67" y1="619.5" x2="1137.5" y2="619.5" stroke="#6c6c6c" stroke-width="1"/>
<text transform="translate(1125,619) rotate(-90)" font-size="9.12" text-anchor="middle" fill="#111" textLength="15.27" lengthAdjust="spacingAndGlyphs" stroke="#111" stroke-width="0.25">-1.0</text>
<line x1="1206.5" y1="626.5" x2="1206.5" y2="633.08" stroke="#6c6c6c" stroke-width="1"/>
<text transform="translate(1210.3,637.9) rotate(-90)" font-size="11.02" text-anchor="end" fill="#111" stroke="#111" stroke-width="0.25">UHRF1 (27)</text>
<line x1="1263.5" y1="626.5" x2="1263.5" y2="633.08" stroke="#6c6c6c" stroke-width="1"/>
<text transform="translate(1267.71,637.9) rotate(-90)" font-size="11.02" text-anchor="end" fill="#111" stroke="#111" stroke-width="0.25">control UHRF1 (3)</text>
<line x1="1320.5" y1="626.5" x2="1320.5" y2="633.08" stroke="#6c6c6c" stroke-width="1"/>
<text transform="translate(1325.13,637.9) rotate(-90)" font-size="11.02" text-anchor="end" fill="#111" stroke="#111" stroke-width="0.25">EZH2 (24)</text>
<line x1="1378.5" y1="626.5" x2="1378.5" y2="633.08" stroke="#6c6c6c" stroke-width="1"/>
<text transform="translate(1382.55,637.9) rotate(-90)" font-size="11.02" text-anchor="end" fill="#111" stroke="#111" stroke-width="0.25">control EZH2 (6)</text>
<text transform="translate(1102.6,635.75) rotate(-90)" font-size="9.76" text-anchor="start" fill="#3a3a3a" textLength="237" lengthAdjust="spacingAndGlyphs" stroke="#3a3a3a" stroke-width="0.2">log2(averge tumor expression/average normal expression)</text>
<g transform="translate(0,448.85)" font-size="34.2" stroke="#000" stroke-width="0.3">
<text x="1222.34" textLength="19.91" lengthAdjust="spacingAndGlyphs">K</text>
<text x="1242.32">I</text>
<text x="1251.9" textLength="20.8" lengthAdjust="spacingAndGlyphs">R</text>
<text x="1272.7" textLength="19.79" lengthAdjust="spacingAndGlyphs">P</text>
</g>
</g>
<g>
<line x1="220.5" y1="846.5" x2="220.5" y2="835.5" stroke="#4a4a4a" stroke-width="1" stroke-dasharray="2.3 2.2"/>
<line x1="217.06" y1="835.5" x2="223.44" y2="835.5" stroke="#4a4a4a" stroke-width="1"/>
<line x1="220.5" y1="864.5" x2="220.5" y2="889" stroke="#4a4a4a" stroke-width="1" stroke-dasharray="2.3 2.2"/>
<line x1="217.06" y1="889.5" x2="223.44" y2="889.5" stroke="#4a4a4a" stroke-width="1"/>
<rect x="213.5" y="846.5" width="13" height="18" fill="#add8e6" stroke="#333b40" stroke-width="0.9"/>
<line x1="213" y1="854.5" x2="227" y2="854.5" stroke="#000" stroke-width="2.02"/>
<line x1="252.5" y1="832.5" x2="252.5" y2="806" stroke="#4a4a4a" stroke-width="1" stroke-dasharray="2.3 2.2"/>
<line x1="248.95" y1="806.5" x2="255.33" y2="806.5" stroke="#4a4a4a" stroke-width="1"/>
<line x1="252.5" y1="860.5" x2="252.5" y2="892.25" stroke="#4a4a4a" stroke-width="1" stroke-dasharray="2.3 2.2"/>
<line x1="248.95" y1="892.5" x2="255.33" y2="892.5" stroke="#4a4a4a" stroke-width="1"/>
<rect x="245.5" y="832.5" width="13" height="28" fill="#add8e6" stroke="#333b40" stroke-width="0.9"/>
<line x1="245" y1="843.25" x2="259" y2="843.25" stroke="#000" stroke-width="2.02"/>
<line x1="284.5" y1="842.5" x2="284.5" y2="806" stroke="#4a4a4a" stroke-width="1" stroke-dasharray="2.3 2.2"/>
<line x1="280.84" y1="806.5" x2="287.22" y2="806.5" stroke="#4a4a4a" stroke-width="1"/>
<line x1="284.5" y1="866.5" x2="284.5" y2="889" stroke="#4a4a4a" stroke-width="1" stroke-dasharray="2.3 2.2"/>
<line x1="280.84" y1="889.5" x2="287.22" y2="889.5" stroke="#4a4a4a" stroke-width="1"/>
<rect x="277.5" y="842.5" width="13" height="24" fill="#add8e6" stroke="#333b40" stroke-width="0.9"/>
<line x1="277" y1="856.75" x2="291" y2="856.75" stroke="#000" stroke-width="2.02"/>
<line x1="315.5" y1="831.5" x2="315.5" y2="808.75" stroke="#4a4a4a" stroke-width="1" stroke-dasharray="2.3 2.2"/>
<line x1="312.73" y1="808.5" x2="319.1" y2="808.5" stroke="#4a4a4a" stroke-width="1"/>
<line x1="315.5" y1="852.5" x2="315.5" y2="873.25" stroke="#4a4a4a" stroke-width="1" stroke-dasharray="2.3 2.2"/>
<line x1="312.73" y1="873.5" x2="319.1" y2="873.5" stroke="#4a4a4a" stroke-width="1"/>
<rect x="309.5" y="831.5" width="13" height="21" fill="#add8e6" stroke="#333b40" stroke-width="0.9"/>
<line x1="309" y1="839.75" x2="323" y2="839.75" stroke="#000" stroke-width="2.02"/>
<circle cx="315.92" cy="892.25" r="1.7" fill="none" stroke="#3c3c3c" stroke-width="1"/>
<line x1="347.5" y1="842.5" x2="347.5" y2="819.75" stroke="#4a4a4a" stroke-width="1" stroke-dasharray="2.3 2.2"/>
<line x1="344.62" y1="819.5" x2="350.99" y2="819.5" stroke="#4a4a4a" stroke-width="1"/>
<line x1="347.5" y1="870.5" x2="347.5" y2="889" stroke="#4a4a4a" stroke-width="1" stroke-dasharray="2.3 2.2"/>
<line x1="344.62" y1="889.5" x2="350.99" y2="889.5" stroke="#4a4a4a" stroke-width="1"/>
<rect x="341.5" y="842.5" width="13" height="28" fill="#add8e6" stroke="#333b40" stroke-width="0.9"/>
<line x1="341" y1="852" x2="355" y2="852" stroke="#000" stroke-width="2.02"/>
<line x1="379.5" y1="832.5" x2="379.5" y2="806" stroke="#4a4a4a" stroke-width="1" stroke-dasharray="2.3 2.2"/>
<line x1="376.51" y1="806.5" x2="382.88" y2="806.5" stroke="#4a4a4a" stroke-width="1"/>
<line x1="379.5" y1="860.5" x2="379.5" y2="892.25" stroke="#4a4a4a" stroke-width="1" stroke-dasharray="2.3 2.2"/>
<line x1="376.51" y1="892.5" x2="382.88" y2="892.5" stroke="#4a4a4a" stroke-width="1"/>
<rect x="373.5" y="832.5" width="13" height="28" fill="#add8e6" stroke="#333b40" stroke-width="0.9"/>
<line x1="373" y1="846.75" x2="387" y2="846.75" stroke="#000" stroke-width="2.02"/>
<line x1="411.5" y1="846.5" x2="411.5" y2="833.25" stroke="#4a4a4a" stroke-width="1" stroke-dasharray="2.3 2.2"/>
<line x1="408.4" y1="833.5" x2="414.77" y2="833.5" stroke="#4a4a4a" stroke-width="1"/>
<line x1="411.5" y1="872.5" x2="411.5" y2="885.25" stroke="#4a4a4a" stroke-width="1" stroke-dasharray="2.3 2.2"/>
<line x1="408.4" y1="885.5" x2="414.77" y2="885.5" stroke="#4a4a4a" stroke-width="1"/>
<rect x="405.5" y="846.5" width="12" height="26" fill="#ff0000" stroke="#6a0000" stroke-width="0.9"/>
<line x1="405" y1="858.75" x2="418" y2="858.75" stroke="#2a0000" stroke-width="2.02"/>
<line x1="443.5" y1="837.5" x2="443.5" y2="806" stroke="#4a4a4a" stroke-width="1" stroke-dasharray="2.3 2.2"/>
<line x1="440.28" y1="806.5" x2="446.66" y2="806.5" stroke="#4a4a4a" stroke-width="1"/>
<line x1="443.5" y1="861.5" x2="443.5" y2="892.25" stroke="#4a4a4a" stroke-width="1" stroke-dasharray="2.3 2.2"/>
<line x1="440.28" y1="892.5" x2="446.66" y2="892.5" stroke="#4a4a4a" stroke-width="1"/>
<rect x="437.5" y="837.5" width="12" height="24" fill="#ff0000" stroke="#6a0000" stroke-width="0.9"/>
<line x1="437" y1="849.5" x2="450" y2="849.5" stroke="#2a0000" stroke-width="2.02"/>
<line x1="475.5" y1="847.5" x2="475.5" y2="819.75" stroke="#4a4a4a" stroke-width="1" stroke-dasharray="2.3 2.2"/>
<line x1="472.17" y1="819.5" x2="478.55" y2="819.5" stroke="#4a4a4a" stroke-width="1"/>
<line x1="475.5" y1="865.5" x2="475.5" y2="886.5" stroke="#4a4a4a" stroke-width="1" stroke-dasharray="2.3 2.2"/>
<line x1="472.17" y1="886.5" x2="478.55" y2="886.5" stroke="#4a4a4a" stroke-width="1"/>
<rect x="468.5" y="847.5" width="13" height="18" fill="#ff0000" stroke="#6a0000" stroke-width="0.9"/>
<line x1="468" y1="855.5" x2="482" y2="855.5" stroke="#2a0000" stroke-width="2.02"/>
<line x1="507.5" y1="836.5" x2="507.5" y2="806" stroke="#4a4a4a" stroke-width="1" stroke-dasharray="2.3 2.2"/>
<line x1="504.06" y1="806.5" x2="510.44" y2="806.5" stroke="#4a4a4a" stroke-width="1"/>
<line x1="507.5" y1="861.5" x2="507.5" y2="892.25" stroke="#4a4a4a" stroke-width="1" stroke-dasharray="2.3 2.2"/>
<line x1="504.06" y1="892.5" x2="510.44" y2="892.5" stroke="#4a4a4a" stroke-width="1"/>
<rect x="500.5" y="836.5" width="13" height="25" fill="#ff0000" stroke="#6a0000" stroke-width="0.9"/>
<line x1="500" y1="848" x2="514" y2="848" stroke="#2a0000" stroke-width="2.02"/>
<rect x="208.5" y="739.5" width="311" height="221" fill="none" stroke="#6c6c6c" stroke-width="1"/>
<line x1="202.66" y1="747.5" x2="208.5" y2="747.5" stroke="#6c6c6c" stroke-width="1"/>
<text transform="translate(195.95,747) rotate(-90)" font-size="9.13" text-anchor="middle" fill="#111" textLength="11.89" lengthAdjust="spacingAndGlyphs" stroke="#111" stroke-width="0.25">1.0</text>
<line x1="202.66" y1="798.5" x2="208.5" y2="798.5" stroke="#6c6c6c" stroke-width="1"/>
<text transform="translate(195.95,798.5) rotate(-90)" font-size="9.13" text-anchor="middle" fill="#111" textLength="11.89" lengthAdjust="spacingAndGlyphs" stroke="#111" stroke-width="0.25">0.5</text>
<line x1="202.66" y1="849.5" x2="208.5" y2="849.5" stroke="#6c6c6c" stroke-width="1"/>
<text transform="translate(195.95,849.5) rotate(-90)" font-size="9.13" text-anchor="middle" fill="#111" textLength="11.89" lengthAdjust="spacingAndGlyphs" stroke="#111" stroke-width="0.25">0.0</text>
<line x1="202.66" y1="900.5" x2="208.5" y2="900.5" stroke="#6c6c6c" stroke-width="1"/>
<text transform="translate(195.95,900.5) rotate(-90)" font-size="9.13" text-anchor="middle" fill="#111" textLength="15.29" lengthAdjust="spacingAndGlyphs" stroke="#111" stroke-width="0.25">-0.5</text>
<line x1="202.66" y1="951.5" x2="208.5" y2="951.5" stroke="#6c6c6c" stroke-width="1"/>
<text transform="translate(195.95,951.75) rotate(-90)" font-size="9.13" text-anchor="middle" fill="#111" textLength="15.29" lengthAdjust="spacingAndGlyphs" stroke="#111" stroke-width="0.25">-1.0</text>
<line x1="220.5" y1="960.5" x2="220.5" y2="967.08" stroke="#6c6c6c" stroke-width="1"/>
<text transform="translate(224.56,971.1) rotate(-90)" font-size="11.06" text-anchor="end" fill="#111" stroke="#111" stroke-width="0.25">KDM5B (14)</text>
<line x1="252.5" y1="960.5" x2="252.5" y2="967.08" stroke="#6c6c6c" stroke-width="1"/>
<text transform="translate(256.45,971.1) rotate(-90)" font-size="11.06" text-anchor="end" fill="#111" stroke="#111" stroke-width="0.25">control KDM5B (27)</text>
<line x1="284.5" y1="960.5" x2="284.5" y2="967.08" stroke="#6c6c6c" stroke-width="1"/>
<text transform="translate(288.34,971.1) rotate(-90)" font-size="11.06" text-anchor="end" fill="#111" stroke="#111" stroke-width="0.25">UHRF1 (24)</text>
<line x1="315.5" y1="960.5" x2="315.5" y2="967.08" stroke="#6c6c6c" stroke-width="1"/>
<text transform="translate(320.23,971.1) rotate(-90)" font-size="11.06" text-anchor="end" fill="#111" stroke="#111" stroke-width="0.25">control UHRF1 (17)</text>
<line x1="347.5" y1="960.5" x2="347.5" y2="967.08" stroke="#6c6c6c" stroke-width="1"/>
<text transform="translate(352.12,971.1) rotate(-90)" font-size="11.06" text-anchor="end" fill="#111" stroke="#111" stroke-width="0.25">EZH2 (14)</text>
<line x1="379.5" y1="960.5" x2="379.5" y2="967.08" stroke="#6c6c6c" stroke-width="1"/>
<text transform="translate(384.01,971.1) rotate(-90)" font-size="11.06" text-anchor="end" fill="#111" stroke="#111" stroke-width="0.25">control EZH2 (27)</text>
<line x1="411.5" y1="960.5" x2="411.5" y2="967.08" stroke="#6c6c6c" stroke-width="1"/>
<text transform="translate(415.9,971.1) rotate(-90)" font-size="11.06" text-anchor="end" fill="#111" stroke="#111" stroke-width="0.25">EP300 (3)</text>
<line x1="443.5" y1="960.5" x2="443.5" y2="967.08" stroke="#6c6c6c" stroke-width="1"/>
<text transform="translate(447.79,971.1) rotate(-90)" font-size="11.06" text-anchor="end" fill="#111" stroke="#111" stroke-width="0.25">control EP300 (35)</text>
<line x1="475.5" y1="960.5" x2="475.5" y2="967.08" stroke="#6c6c6c" stroke-width="1"/>
<text transform="translate(479.67,971.1) rotate(-90)" font-size="11.06" text-anchor="end" fill="#111" stroke="#111" stroke-width="0.25">MLL2 (6)</text>
<line x1="507.5" y1="960.5" x2="507.5" y2="967.08" stroke="#6c6c6c" stroke-width="1"/>
<text transform="translate(511.56,971.1) rotate(-90)" font-size="11.06" text-anchor="end" fill="#111" stroke="#111" stroke-width="0.25">control MLL2 (32)</text>
<text transform="translate(173.6,968.75) rotate(-90)" font-size="9.77" text-anchor="start" fill="#3a3a3a" textLength="237.5" lengthAdjust="spacingAndGlyphs" stroke="#3a3a3a" stroke-width="0.2">log2(averge tumor expression/average normal expression)</text>
<g transform="translate(0,773.6)" font-size="34.2" stroke="#000" stroke-width="0.3">
<text x="300.16 324.42">HN</text>
<text x="349.11" textLength="17.58" lengthAdjust="spacingAndGlyphs">S</text>
<text x="366.69" textLength="20.4" lengthAdjust="spacingAndGlyphs">C</text>
</g>
</g>
<g>
<line x1="776.5" y1="849.5" x2="776.5" y2="830.25" stroke="#4a4a4a" stroke-width="1" stroke-dasharray="2.3 2.2"/>
<line x1="770.5" y1="830.5" x2="781.5" y2="830.5" stroke="#4a4a4a" stroke-width="1"/>
<line x1="776.5" y1="870.5" x2="776.5" y2="878.5" stroke="#4a4a4a" stroke-width="1" stroke-dasharray="2.3 2.2"/>
<line x1="770.5" y1="878.5" x2="781.5" y2="878.5" stroke="#4a4a4a" stroke-width="1"/>
<rect x="765.5" y="849.5" width="22" height="21" fill="#add8e6" stroke="#333b40" stroke-width="0.9"/>
<line x1="765" y1="857.5" x2="788" y2="857.5" stroke="#000" stroke-width="1.9"/>
<line x1="830.5" y1="859.5" x2="830.5" y2="842.25" stroke="#4a4a4a" stroke-width="1" stroke-dasharray="2.3 2.2"/>
<line x1="824.5" y1="842.5" x2="835.5" y2="842.5" stroke="#4a4a4a" stroke-width="1"/>
<line x1="830.5" y1="871.5" x2="830.5" y2="889" stroke="#4a4a4a" stroke-width="1" stroke-dasharray="2.3 2.2"/>
<line x1="824.5" y1="889.5" x2="835.5" y2="889.5" stroke="#4a4a4a" stroke-width="1"/>
<rect x="819.5" y="859.5" width="22" height="12" fill="#add8e6" stroke="#333b40" stroke-width="0.9"/>
<line x1="819" y1="862.25" x2="842" y2="862.25" stroke="#000" stroke-width="1.9"/>
<line x1="884.5" y1="849.5" x2="884.5" y2="830.25" stroke="#4a4a4a" stroke-width="1" stroke-dasharray="2.3 2.2"/>
<line x1="878.5" y1="830.5" x2="889.5" y2="830.5" stroke="#4a4a4a" stroke-width="1"/>
<line x1="884.5" y1="868.5" x2="884.5" y2="877" stroke="#4a4a4a" stroke-width="1" stroke-dasharray="2.3 2.2"/>
<line x1="878.5" y1="877.5" x2="889.5" y2="877.5" stroke="#4a4a4a" stroke-width="1"/>
<rect x="873.5" y="849.5" width="22" height="19" fill="#add8e6" stroke="#333b40" stroke-width="0.9"/>
<line x1="873" y1="857.5" x2="896" y2="857.5" stroke="#000" stroke-width="1.9"/>
<line x1="938.5" y1="860.5" x2="938.5" y2="852" stroke="#4a4a4a" stroke-width="1" stroke-dasharray="2.3 2.2"/>
<line x1="932.5" y1="852.5" x2="943.5" y2="852.5" stroke="#4a4a4a" stroke-width="1"/>
<line x1="938.5" y1="871.5" x2="938.5" y2="879.25" stroke="#4a4a4a" stroke-width="1" stroke-dasharray="2.3 2.2"/>
<line x1="932.5" y1="879.5" x2="943.5" y2="879.5" stroke="#4a4a4a" stroke-width="1"/>
<rect x="927.5" y="860.5" width="22" height="11" fill="#add8e6" stroke="#333b40" stroke-width="0.9"/>
<line x1="927" y1="862.75" x2="950" y2="862.75" stroke="#000" stroke-width="1.9"/>
<circle cx="938" cy="889" r="1.6" fill="none" stroke="#3c3c3c" stroke-width="1"/>
<rect x="711.5" y="747.5" width="291" height="207" fill="none" stroke="#6c6c6c" stroke-width="1"/>
<line x1="706.01" y1="755.5" x2="711.5" y2="755.5" stroke="#6c6c6c" stroke-width="1"/>
<text transform="translate(699.7,755) rotate(-90)" font-size="8.59" text-anchor="middle" fill="#111" textLength="11.18" lengthAdjust="spacingAndGlyphs" stroke="#111" stroke-width="0.25">1.0</text>
<line x1="706.01" y1="803.5" x2="711.5" y2="803.5" stroke="#6c6c6c" stroke-width="1"/>
<text transform="translate(699.7,803.25) rotate(-90)" font-size="8.59" text-anchor="middle" fill="#111" textLength="11.18" lengthAdjust="spacingAndGlyphs" stroke="#111" stroke-width="0.25">0.5</text>
<line x1="706.01" y1="851.5" x2="711.5" y2="851.5" stroke="#6c6c6c" stroke-width="1"/>
<text transform="translate(699.7,851.25) rotate(-90)" font-size="8.59" text-anchor="middle" fill="#111" textLength="11.18" lengthAdjust="spacingAndGlyphs" stroke="#111" stroke-width="0.25">0.0</text>
<line x1="706.01" y1="899.5" x2="711.5" y2="899.5" stroke="#6c6c6c" stroke-width="1"/>
<text transform="translate(699.7,899.25) rotate(-90)" font-size="8.59" text-anchor="middle" fill="#111" textLength="14.38" lengthAdjust="spacingAndGlyphs" stroke="#111" stroke-width="0.25">-0.5</text>
<line x1="706.01" y1="947.5" x2="711.5" y2="947.5" stroke="#6c6c6c" stroke-width="1"/>
<text transform="translate(699.7,947.5) rotate(-90)" font-size="8.59" text-anchor="middle" fill="#111" textLength="14.38" lengthAdjust="spacingAndGlyphs" stroke="#111" stroke-width="0.25">-1.0</text>
<line x1="776.5" y1="954.5" x2="776.5" y2="960.69" stroke="#6c6c6c" stroke-width="1"/>
<text transform="translate(780.08,964.9) rotate(-90)" font-size="10.45" text-anchor="end" fill="#111" stroke="#111" stroke-width="0.25">UHRF1 (28)</text>
<line x1="830.5" y1="954.5" x2="830.5" y2="960.69" stroke="#6c6c6c" stroke-width="1"/>
<text transform="translate(834.08,964.9) rotate(-90)" font-size="10.45" text-anchor="end" fill="#111" stroke="#111" stroke-width="0.25">control UHRF1 (22)</text>
<line x1="884.5" y1="954.5" x2="884.5" y2="960.69" stroke="#6c6c6c" stroke-width="1"/>
<text transform="translate(888.08,964.9) rotate(-90)" font-size="10.45" text-anchor="end" fill="#111" stroke="#111" stroke-width="0.25">EZH2 (33)</text>
<line x1="938.5" y1="954.5" x2="938.5" y2="960.69" stroke="#6c6c6c" stroke-width="1"/>
<text transform="translate(942.08,964.9) rotate(-90)" font-size="10.45" text-anchor="end" fill="#111" stroke="#111" stroke-width="0.25">control EZH2 (17)</text>
<text transform="translate(678.8,963.75) rotate(-90)" font-size="9.19" text-anchor="start" fill="#3a3a3a" textLength="218.25" lengthAdjust="spacingAndGlyphs" stroke="#3a3a3a" stroke-width="0.2">log2(averge tumor expression/average normal expressior</text>
<g transform="translate(0,788.6)" font-size="34.2" stroke="#000" stroke-width="0.3">
<text x="792.85" textLength="19.81" lengthAdjust="spacingAndGlyphs">P</text>
<text x="812.66" textLength="20.82" lengthAdjust="spacingAndGlyphs">R</text>
<text x="833.16">A</text>
<text x="855.65" textLength="23.59" lengthAdjust="spacingAndGlyphs">D</text>
</g>
</g>
<g>
<line x1="1220.5" y1="836.5" x2="1220.5" y2="822.75" stroke="#4a4a4a" stroke-width="1" stroke-dasharray="2.3 2.2"/>
<line x1="1215" y1="822.5" x2="1226" y2="822.5" stroke="#4a4a4a" stroke-width="1"/>
<line x1="1220.5" y1="853.5" x2="1220.5" y2="868.5" stroke="#4a4a4a" stroke-width="1" stroke-dasharray="2.3 2.2"/>
<line x1="1215" y1="868.5" x2="1226" y2="868.5" stroke="#4a4a4a" stroke-width="1"/>
<rect x="1209.5" y="836.5" width="22" height="17" fill="#add8e6" stroke="#333b40" stroke-width="0.9"/>
<line x1="1209" y1="845.75" x2="1232" y2="845.75" stroke="#000" stroke-width="1.88"/>
<circle cx="1220.5" cy="810.5" r="1.58" fill="none" stroke="#3c3c3c" stroke-width="1"/>
<line x1="1274.5" y1="840.5" x2="1274.5" y2="822.5" stroke="#4a4a4a" stroke-width="1" stroke-dasharray="2.3 2.2"/>
<line x1="1268.67" y1="822.5" x2="1279.67" y2="822.5" stroke="#4a4a4a" stroke-width="1"/>
<line x1="1274.5" y1="863.5" x2="1274.5" y2="874" stroke="#4a4a4a" stroke-width="1" stroke-dasharray="2.3 2.2"/>
<line x1="1268.67" y1="874.5" x2="1279.67" y2="874.5" stroke="#4a4a4a" stroke-width="1"/>
<rect x="1263.5" y="840.5" width="22" height="23" fill="#add8e6" stroke="#333b40" stroke-width="0.9"/>
<line x1="1263" y1="852.25" x2="1286" y2="852.25" stroke="#000" stroke-width="1.88"/>
<line x1="1327.5" y1="831.5" x2="1327.5" y2="810.5" stroke="#4a4a4a" stroke-width="1" stroke-dasharray="2.3 2.2"/>
<line x1="1322.33" y1="810.5" x2="1333.33" y2="810.5" stroke="#4a4a4a" stroke-width="1"/>
<line x1="1327.5" y1="849.5" x2="1327.5" y2="868.5" stroke="#4a4a4a" stroke-width="1" stroke-dasharray="2.3 2.2"/>
<line x1="1322.33" y1="868.5" x2="1333.33" y2="868.5" stroke="#4a4a4a" stroke-width="1"/>
<rect x="1316.5" y="831.5" width="22" height="18" fill="#add8e6" stroke="#333b40" stroke-width="0.9"/>
<line x1="1316" y1="841" x2="1339" y2="841" stroke="#000" stroke-width="1.88"/>
<line x1="1381.5" y1="842.5" x2="1381.5" y2="822.5" stroke="#4a4a4a" stroke-width="1" stroke-dasharray="2.3 2.2"/>
<line x1="1376" y1="822.5" x2="1387" y2="822.5" stroke="#4a4a4a" stroke-width="1"/>
<line x1="1381.5" y1="860.5" x2="1381.5" y2="874" stroke="#4a4a4a" stroke-width="1" stroke-dasharray="2.3 2.2"/>
<line x1="1376" y1="874.5" x2="1387" y2="874.5" stroke="#4a4a4a" stroke-width="1"/>
<rect x="1370.5" y="842.5" width="22" height="18" fill="#add8e6" stroke="#333b40" stroke-width="0.9"/>
<line x1="1370" y1="849.25" x2="1393" y2="849.25" stroke="#000" stroke-width="1.88"/>
<rect x="1156.5" y="736.5" width="289" height="206" fill="none" stroke="#6c6c6c" stroke-width="1"/>
<line x1="1151.06" y1="744.5" x2="1156.5" y2="744.5" stroke="#6c6c6c" stroke-width="1"/>
<text transform="translate(1144.2,744.5) rotate(-90)" font-size="8.51" text-anchor="middle" fill="#111" textLength="11.08" lengthAdjust="spacingAndGlyphs" stroke="#111" stroke-width="0.25">1.0</text>
<line x1="1151.06" y1="792.5" x2="1156.5" y2="792.5" stroke="#6c6c6c" stroke-width="1"/>
<text transform="translate(1144.2,792.25) rotate(-90)" font-size="8.51" text-anchor="middle" fill="#111" textLength="11.08" lengthAdjust="spacingAndGlyphs" stroke="#111" stroke-width="0.25">0.5</text>
<line x1="1151.06" y1="840.5" x2="1156.5" y2="840.5" stroke="#6c6c6c" stroke-width="1"/>
<text transform="translate(1144.2,840) rotate(-90)" font-size="8.51" text-anchor="middle" fill="#111" textLength="11.08" lengthAdjust="spacingAndGlyphs" stroke="#111" stroke-width="0.25">0.0</text>
<line x1="1151.06" y1="887.5" x2="1156.5" y2="887.5" stroke="#6c6c6c" stroke-width="1"/>
<text transform="translate(1144.2,887.5) rotate(-90)" font-size="8.51" text-anchor="middle" fill="#111" textLength="14.25" lengthAdjust="spacingAndGlyphs" stroke="#111" stroke-width="0.25">-0.5</text>
<line x1="1151.06" y1="935.5" x2="1156.5" y2="935.5" stroke="#6c6c6c" stroke-width="1"/>
<text transform="translate(1144.2,935.25) rotate(-90)" font-size="8.51" text-anchor="middle" fill="#111" textLength="14.25" lengthAdjust="spacingAndGlyphs" stroke="#111" stroke-width="0.25">-1.0</text>
<line x1="1220.5" y1="942.5" x2="1220.5" y2="948.63" stroke="#6c6c6c" stroke-width="1"/>
<text transform="translate(1224.53,952.9) rotate(-90)" font-size="10.34" text-anchor="end" fill="#111" stroke="#111" stroke-width="0.25">UHRF1 (46)</text>
<line x1="1274.5" y1="942.5" x2="1274.5" y2="948.63" stroke="#6c6c6c" stroke-width="1"/>
<text transform="translate(1278.2,952.9) rotate(-90)" font-size="10.34" text-anchor="end" fill="#111" stroke="#111" stroke-width="0.25">control UHRF1 (20)</text>
<line x1="1327.5" y1="942.5" x2="1327.5" y2="948.63" stroke="#6c6c6c" stroke-width="1"/>
<text transform="translate(1331.87,952.9) rotate(-90)" font-size="10.34" text-anchor="end" fill="#111" stroke="#111" stroke-width="0.25">EZH2 (33)</text>
<line x1="1381.5" y1="942.5" x2="1381.5" y2="948.63" stroke="#6c6c6c" stroke-width="1"/>
<text transform="translate(1385.53,952.9) rotate(-90)" font-size="10.34" text-anchor="end" fill="#111" stroke="#111" stroke-width="0.25">control EZH2 (33)</text>
<text transform="translate(1123.2,951.25) rotate(-90)" font-size="9.1" text-anchor="start" fill="#3a3a3a" textLength="220.75" lengthAdjust="spacingAndGlyphs" stroke="#3a3a3a" stroke-width="0.2">log2(averge tumor expression/average normal expression)</text>
<g transform="translate(0,772.6)" font-size="34.2" stroke="#000" stroke-width="0.3">
<text x="1212.87" textLength="18.4" lengthAdjust="spacingAndGlyphs">T</text>
<text x="1231.27" textLength="23.52" lengthAdjust="spacingAndGlyphs">H</text>
<text x="1254.79" textLength="20.13" lengthAdjust="spacingAndGlyphs">C</text>
<text x="1274.92" textLength="21.84" lengthAdjust="spacingAndGlyphs">A</text>
</g>
</g>
</svg>
</body></html>
